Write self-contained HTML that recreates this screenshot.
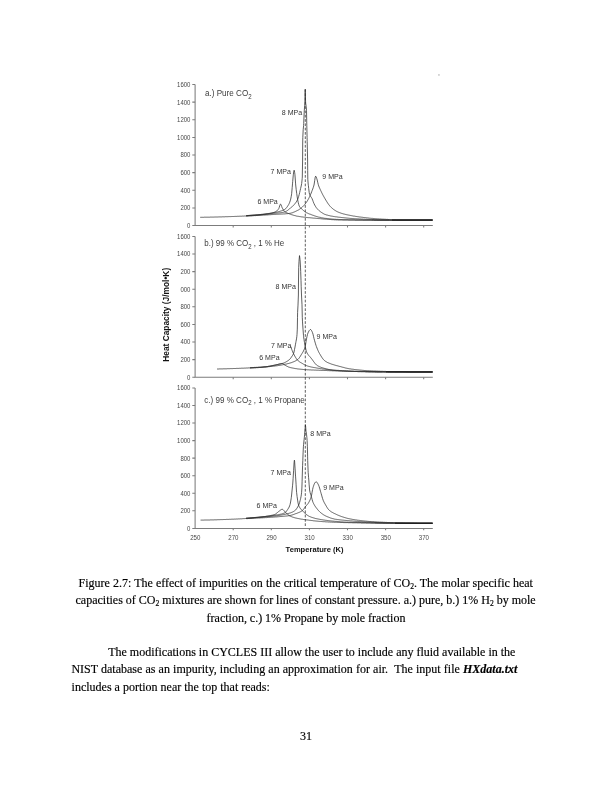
<!DOCTYPE html><html><head><meta charset="utf-8"><title>Page 31</title><style>
html,body{margin:0;padding:0;background:#fff}
body{width:612px;height:792px;position:relative;overflow:hidden;font-family:"Liberation Serif","Times New Roman",serif;font-size:12px;color:#000}
.l{position:absolute;white-space:nowrap;line-height:14px;height:14px;-webkit-text-stroke:0.16px #000}
sub{font-size:7.6px;vertical-align:baseline;position:relative;top:2px;line-height:0}

</style></head><body>
<svg width="612" height="792" viewBox="0 0 612 792" style="position:absolute;left:0;top:0">
<g fill="none" stroke="#7c7c7c" stroke-width="1.05">
<path d="M195.1,84.5 V225.5 H432.8"/>
<path d="M192.3,225.5 H195.1 M192.3,207.9 H195.1 M192.3,190.2 H195.1 M192.3,172.6 H195.1 M192.3,155.0 H195.1 M192.3,137.4 H195.1 M192.3,119.8 H195.1 M192.3,102.1 H195.1 M192.3,84.5 H195.1 M233.2,225.5 v1.9 M271.3,225.5 v1.9 M309.4,225.5 v1.9 M347.5,225.5 v1.9 M385.6,225.5 v1.9 M423.7,225.5 v1.9 "/>
<path d="M195.1,236.4 V377.25 H432.8"/>
<path d="M192.3,377.2 H195.1 M192.3,359.6 H195.1 M192.3,342.0 H195.1 M192.3,324.4 H195.1 M192.3,306.8 H195.1 M192.3,289.2 H195.1 M192.3,271.6 H195.1 M192.3,254.0 H195.1 M192.3,236.4 H195.1 M233.2,377.25 v1.9 M271.3,377.25 v1.9 M309.4,377.25 v1.9 M347.5,377.25 v1.9 M385.6,377.25 v1.9 M423.7,377.25 v1.9 "/>
<path d="M195.1,387.9 V528.4 H432.8"/>
<path d="M192.3,528.4 H195.1 M192.3,510.8 H195.1 M192.3,493.3 H195.1 M192.3,475.7 H195.1 M192.3,458.1 H195.1 M192.3,440.6 H195.1 M192.3,423.0 H195.1 M192.3,405.5 H195.1 M192.3,387.9 H195.1 M233.2,528.4 v1.9 M271.3,528.4 v1.9 M309.4,528.4 v1.9 M347.5,528.4 v1.9 M385.6,528.4 v1.9 M423.7,528.4 v1.9 "/>
</g>
<path d="M305.3,89 V527" stroke="#1a1a1a" stroke-width="0.7" stroke-dasharray="2.7,1.6" fill="none"/>
<g fill="none" stroke="#2a2a2a" stroke-width="0.75" stroke-linejoin="round">
<path d="M200.2,217.3 L200.7,217.3 L201.2,217.3 L201.7,217.3 L202.2,217.3 L202.7,217.3 L203.2,217.3 L203.7,217.3 L204.2,217.2 L204.7,217.2 L205.2,217.2 L205.7,217.2 L206.2,217.2 L206.7,217.2 L207.2,217.2 L207.7,217.2 L208.2,217.2 L208.7,217.2 L209.2,217.2 L209.7,217.2 L210.2,217.1 L210.7,217.1 L211.2,217.1 L211.7,217.1 L212.2,217.1 L212.7,217.1 L213.2,217.1 L213.7,217.1 L214.2,217.1 L214.7,217.0 L215.2,217.0 L215.7,217.0 L216.2,217.0 L216.7,217.0 L217.2,217.0 L217.7,217.0 L218.2,217.0 L218.7,216.9 L219.2,216.9 L219.7,216.9 L220.2,216.9 L220.7,216.9 L221.2,216.9 L221.7,216.9 L222.2,216.8 L222.7,216.8 L223.2,216.8 L223.7,216.8 L224.2,216.8 L224.7,216.8 L225.2,216.7 L225.7,216.7 L226.2,216.7 L226.7,216.7 L227.2,216.7 L227.7,216.7 L228.2,216.7 L228.7,216.6 L229.2,216.6 L229.7,216.6 L230.0,216.6 L230.2,216.6 L230.7,216.6 L231.2,216.6 L231.7,216.5 L232.2,216.5 L232.7,216.5 L233.2,216.5 L233.7,216.5 L234.2,216.5 L234.7,216.4 L235.2,216.4 L235.7,216.4 L236.2,216.4 L236.7,216.4 L237.2,216.3 L237.7,216.3 L238.2,216.3 L238.7,216.3 L239.2,216.3 L239.7,216.2 L240.2,216.2 L240.7,216.2 L241.2,216.2 L241.7,216.2 L242.2,216.1 L242.7,216.1 L243.2,216.1 L243.7,216.1 L244.2,216.0 L244.7,216.0 L245.2,216.0 L245.7,216.0 L246.2,215.9 L246.7,215.9 L247.2,215.9 L247.7,215.9 L248.2,215.8 L248.7,215.8 L249.2,215.8 L249.7,215.7 L250.2,215.7 L250.7,215.7 L251.2,215.7 L251.7,215.6 L252.2,215.6 L252.7,215.6 L253.2,215.5 L253.7,215.5 L254.2,215.5 L254.7,215.4 L255.0,215.4 L255.2,215.4 L255.7,215.3 L256.2,215.3 L256.7,215.3 L257.2,215.2 L257.7,215.2 L258.2,215.1 L258.7,215.1 L259.2,215.0 L259.7,215.0 L260.2,214.9 L260.7,214.9 L261.2,214.8 L261.7,214.7 L262.2,214.7 L262.7,214.6 L263.2,214.6 L263.7,214.5 L264.2,214.4 L264.7,214.3 L265.2,214.3 L265.7,214.2 L266.2,214.1 L266.7,214.0 L267.2,213.9 L267.7,213.9 L268.0,213.8 L268.2,213.8 L268.7,213.7 L269.2,213.6 L269.7,213.5 L270.2,213.4 L270.7,213.3 L271.2,213.2 L271.7,213.1 L272.2,212.9 L272.7,212.8 L273.2,212.6 L273.7,212.5 L274.2,212.3 L274.7,212.1 L275.2,211.9 L275.7,211.6 L275.8,211.6 L276.2,211.4 L276.7,211.0 L277.2,210.5 L277.7,210.0 L278.2,209.4 L278.7,208.7 L278.8,208.5 L279.2,207.5 L279.7,205.8 L280.2,204.4 L280.5,204.1 L280.7,204.2 L281.2,205.1 L281.7,206.5 L282.2,207.8 L282.3,208.0 L282.7,208.7 L283.2,209.6 L283.7,210.4 L284.2,211.1 L284.6,211.5 L284.7,211.6 L285.2,211.9 L285.7,212.3 L286.2,212.5 L286.7,212.8 L287.2,213.0 L287.7,213.2 L288.2,213.4 L288.7,213.6 L289.2,213.8 L289.5,213.9 L289.7,214.0 L290.2,214.2 L290.7,214.3 L291.2,214.5 L291.7,214.7 L292.2,214.8 L292.7,215.0 L293.2,215.2 L293.7,215.3 L294.2,215.4 L294.7,215.6 L295.2,215.7 L295.7,215.8 L296.2,216.0 L296.7,216.1 L297.2,216.2 L297.4,216.2 L297.7,216.3 L298.2,216.3 L298.7,216.4 L299.2,216.5 L299.7,216.6 L300.2,216.7 L300.7,216.7 L301.2,216.8 L301.7,216.9 L302.2,216.9 L302.7,217.0 L303.2,217.1 L303.7,217.1 L304.2,217.2 L304.7,217.2 L305.2,217.3 L305.7,217.3 L306.2,217.4 L306.7,217.5 L307.2,217.5 L307.7,217.6 L308.2,217.6 L308.7,217.7 L309.2,217.7 L309.7,217.7 L310.2,217.8 L310.7,217.8 L311.2,217.9 L311.7,217.9 L312.2,218.0 L312.7,218.0 L313.2,218.1 L313.7,218.1 L314.2,218.1 L314.7,218.2 L315.2,218.2 L315.7,218.3 L316.0,218.3 L316.2,218.3 L316.7,218.4 L317.2,218.4 L317.7,218.5 L318.2,218.5 L318.7,218.6 L319.2,218.6 L319.7,218.6 L320.2,218.7 L320.7,218.7 L321.2,218.8 L321.7,218.8 L322.2,218.9 L322.7,218.9 L323.2,219.0 L323.7,219.0 L324.2,219.0 L324.7,219.1 L325.0,219.1 L325.2,219.1 L325.7,219.2 L326.2,219.2 L326.7,219.2 L327.2,219.3 L327.7,219.3 L328.2,219.3 L328.7,219.4 L329.2,219.4 L329.7,219.5 L330.2,219.5 L330.7,219.5 L331.2,219.6 L331.7,219.6 L332.2,219.6 L332.7,219.7 L333.2,219.7 L333.7,219.7 L334.2,219.8 L334.7,219.8 L335.2,219.8 L335.7,219.8 L336.2,219.9 L336.7,219.9 L337.2,219.9 L337.7,219.9 L338.2,220.0 L338.7,220.0 L339.2,220.0 L339.7,220.0 L340.0,220.0 L340.2,220.0 L340.7,220.0 L341.2,220.0 L341.7,220.0 L342.2,220.0 L342.7,220.1 L343.2,220.1 L343.7,220.1 L344.2,220.1 L344.7,220.1 L345.2,220.1 L345.7,220.1 L346.2,220.1 L346.7,220.1 L347.2,220.1 L347.7,220.1 L348.2,220.1 L348.7,220.2 L349.2,220.2 L349.7,220.2 L350.2,220.2 L350.7,220.2 L351.2,220.2 L351.7,220.2 L352.2,220.2 L352.7,220.2 L353.2,220.2 L353.7,220.2 L354.2,220.2 L354.7,220.2 L355.2,220.3 L355.7,220.3 L356.2,220.3 L356.7,220.3 L357.2,220.3 L357.7,220.3 L358.2,220.3 L358.7,220.3 L359.2,220.3 L359.7,220.3 L360.2,220.3 L360.7,220.3 L361.2,220.3 L361.7,220.3 L362.2,220.3 L362.7,220.3 L363.2,220.4 L363.7,220.4 L364.2,220.4 L364.7,220.4 L365.2,220.4 L365.7,220.4 L366.2,220.4 L366.7,220.4 L367.2,220.4 L367.7,220.4 L368.2,220.4 L368.7,220.4 L369.2,220.4 L369.7,220.4 L370.2,220.4 L370.7,220.4 L371.2,220.4 L371.7,220.4 L372.2,220.4 L372.7,220.4 L373.2,220.4 L373.7,220.4 L374.2,220.4 L374.7,220.5 L375.2,220.5 L375.7,220.5 L376.2,220.5 L376.7,220.5 L377.2,220.5 L377.7,220.5 L378.2,220.5 L378.7,220.5 L379.2,220.5 L379.7,220.5 L380.2,220.5 L380.7,220.5 L381.2,220.5 L381.7,220.5 L382.2,220.5 L382.7,220.5 L383.2,220.5 L383.7,220.5 L384.2,220.5 L384.7,220.5 L385.2,220.5 L385.7,220.5 L386.2,220.5 L386.7,220.5 L387.2,220.5 L387.7,220.5 L388.2,220.5 L388.7,220.5 L389.2,220.5 L389.7,220.5 L390.0,220.5 L390.2,220.5 L390.7,220.5 L391.2,220.5 L391.7,220.5 L392.2,220.5 L392.7,220.5 L393.2,220.5 L393.7,220.5 L394.2,220.5 L394.7,220.5 L395.2,220.5 L395.7,220.5 L396.2,220.5 L396.7,220.5 L397.2,220.5 L397.7,220.5 L398.2,220.5 L398.7,220.5 L399.2,220.5 L399.7,220.5 L400.2,220.5 L400.7,220.5 L401.2,220.5 L401.7,220.5 L402.2,220.5 L402.7,220.5 L403.2,220.5 L403.7,220.5 L404.2,220.5 L404.7,220.5 L405.2,220.5 L405.7,220.5 L406.2,220.5 L406.7,220.5 L407.2,220.5 L407.7,220.5 L408.2,220.5 L408.7,220.5 L409.2,220.5 L409.7,220.5 L410.2,220.5 L410.7,220.5 L411.2,220.5 L411.7,220.5 L412.2,220.5 L412.7,220.5 L413.2,220.5 L413.7,220.5 L414.2,220.5 L414.7,220.5 L415.2,220.5 L415.7,220.5 L416.2,220.5 L416.7,220.5 L417.2,220.5 L417.7,220.5 L418.2,220.5 L418.7,220.5 L419.2,220.5 L419.7,220.5 L420.2,220.5 L420.7,220.5 L421.2,220.5 L421.7,220.5 L422.2,220.5 L422.7,220.5 L423.2,220.5 L423.7,220.5 L424.2,220.5 L424.7,220.5 L425.2,220.5 L425.7,220.5 L426.2,220.5 L426.7,220.5 L427.2,220.5 L427.7,220.5 L428.2,220.5 L428.7,220.5 L429.2,220.5 L429.7,220.5 L430.2,220.5 L430.7,220.5 L431.2,220.5 L431.7,220.5 L432.2,220.5 L432.5,220.5"/>
<path d="M246.2,215.7 L246.7,215.7 L247.2,215.6 L247.7,215.6 L248.2,215.6 L248.7,215.5 L249.2,215.5 L249.7,215.4 L250.2,215.4 L250.7,215.4 L251.2,215.3 L251.7,215.3 L252.2,215.2 L252.7,215.2 L253.2,215.2 L253.7,215.1 L254.2,215.1 L254.7,215.0 L255.0,215.0 L255.2,215.0 L255.7,214.9 L256.2,214.9 L256.7,214.8 L257.2,214.8 L257.7,214.8 L258.2,214.7 L258.7,214.7 L259.2,214.6 L259.7,214.6 L260.2,214.5 L260.7,214.5 L261.2,214.4 L261.7,214.3 L262.2,214.3 L262.7,214.2 L263.2,214.2 L263.7,214.1 L264.2,214.1 L264.7,214.0 L265.2,213.9 L265.7,213.9 L266.2,213.8 L266.7,213.7 L267.2,213.7 L267.7,213.6 L268.2,213.5 L268.7,213.5 L269.2,213.4 L269.7,213.3 L270.2,213.2 L270.7,213.2 L271.2,213.1 L271.7,213.0 L272.2,212.9 L272.7,212.8 L273.2,212.7 L273.7,212.6 L274.2,212.6 L274.7,212.5 L275.0,212.4 L275.2,212.4 L275.7,212.3 L276.2,212.2 L276.7,212.1 L277.2,212.0 L277.7,211.9 L278.2,211.8 L278.7,211.6 L279.2,211.5 L279.7,211.4 L280.2,211.2 L280.7,211.1 L281.2,210.9 L281.7,210.8 L282.2,210.6 L282.7,210.4 L283.2,210.2 L283.7,209.9 L284.2,209.7 L284.6,209.5 L284.7,209.4 L285.2,209.1 L285.7,208.7 L286.2,208.1 L286.7,207.5 L287.2,206.8 L287.7,206.1 L288.2,205.3 L288.5,204.8 L288.7,204.5 L289.2,203.5 L289.7,202.3 L290.2,200.9 L290.7,199.1 L291.2,196.6 L291.6,194.1 L291.7,193.3 L292.2,187.6 L292.5,183.9 L292.7,181.6 L293.2,175.9 L293.4,174.2 L293.7,171.9 L294.1,170.2 L294.2,170.3 L294.7,172.7 L294.9,174.2 L295.2,178.0 L295.6,183.9 L295.7,185.0 L296.2,189.5 L296.7,193.4 L296.8,194.1 L297.2,196.9 L297.7,199.9 L297.9,200.9 L298.2,202.3 L298.7,204.4 L299.2,205.9 L299.3,206.1 L299.7,206.8 L300.2,207.5 L300.7,208.0 L301.2,208.5 L301.7,209.0 L302.2,209.4 L302.3,209.5 L302.7,209.9 L303.2,210.3 L303.7,210.7 L304.2,211.1 L304.7,211.5 L305.2,211.9 L305.7,212.2 L306.2,212.5 L306.7,212.8 L307.2,213.0 L307.7,213.2 L308.2,213.5 L308.7,213.7 L309.2,213.9 L309.7,214.1 L310.2,214.2 L310.7,214.4 L311.2,214.6 L311.7,214.8 L312.0,214.9 L312.2,215.0 L312.7,215.2 L313.2,215.3 L313.7,215.5 L314.2,215.7 L314.7,215.9 L315.2,216.1 L315.7,216.2 L316.2,216.4 L316.7,216.5 L317.2,216.7 L317.7,216.8 L318.0,216.9 L318.2,217.0 L318.7,217.1 L319.2,217.2 L319.7,217.3 L320.2,217.4 L320.7,217.5 L321.2,217.7 L321.7,217.8 L322.2,217.9 L322.7,217.9 L323.2,218.0 L323.7,218.1 L324.2,218.2 L324.7,218.3 L325.0,218.3 L325.2,218.3 L325.7,218.4 L326.2,218.4 L326.7,218.5 L327.2,218.6 L327.7,218.6 L328.2,218.7 L328.7,218.7 L329.2,218.8 L329.7,218.8 L330.2,218.9 L330.7,218.9 L331.2,219.0 L331.7,219.0 L332.2,219.1 L332.7,219.1 L333.2,219.1 L333.7,219.2 L334.2,219.2 L334.7,219.3 L335.2,219.3 L335.7,219.3 L336.2,219.4 L336.7,219.4 L337.2,219.4 L337.7,219.4 L338.2,219.4 L338.7,219.5 L339.2,219.5 L339.7,219.5 L340.0,219.5 L340.2,219.5 L340.7,219.5 L341.2,219.5 L341.7,219.5 L342.2,219.5 L342.7,219.6 L343.2,219.6 L343.7,219.6 L344.2,219.6 L344.7,219.6 L345.2,219.6 L345.7,219.6 L346.2,219.6 L346.7,219.6 L347.2,219.6 L347.7,219.6 L348.2,219.7 L348.7,219.7 L349.2,219.7 L349.7,219.7 L350.2,219.7 L350.7,219.7 L351.2,219.7 L351.7,219.7 L352.2,219.7 L352.7,219.7 L353.2,219.7 L353.7,219.7 L354.2,219.7 L354.7,219.8 L355.2,219.8 L355.7,219.8 L356.2,219.8 L356.7,219.8 L357.2,219.8 L357.7,219.8 L358.2,219.8 L358.7,219.8 L359.2,219.8 L359.7,219.8 L360.2,219.8 L360.7,219.8 L361.2,219.8 L361.7,219.8 L362.2,219.8 L362.7,219.9 L363.2,219.9 L363.7,219.9 L364.2,219.9 L364.7,219.9 L365.2,219.9 L365.7,219.9 L366.2,219.9 L366.7,219.9 L367.2,219.9 L367.7,219.9 L368.2,219.9 L368.7,219.9 L369.2,219.9 L369.7,219.9 L370.2,219.9 L370.7,219.9 L371.2,219.9 L371.7,219.9 L372.2,219.9 L372.7,219.9 L373.2,219.9 L373.7,219.9 L374.2,220.0 L374.7,220.0 L375.2,220.0 L375.7,220.0 L376.2,220.0 L376.7,220.0 L377.2,220.0 L377.7,220.0 L378.2,220.0 L378.7,220.0 L379.2,220.0 L379.7,220.0 L380.2,220.0 L380.7,220.0 L381.2,220.0 L381.7,220.0 L382.2,220.0 L382.7,220.0 L383.2,220.0 L383.7,220.0 L384.2,220.0 L384.7,220.0 L385.2,220.0 L385.7,220.0 L386.2,220.0 L386.7,220.0 L387.2,220.0 L387.7,220.0 L388.2,220.0 L388.7,220.0 L389.2,220.0 L389.7,220.0 L390.0,220.0 L390.2,220.0 L390.7,220.0 L391.2,220.0 L391.7,220.0 L392.2,220.0 L392.7,220.0 L393.2,220.0 L393.7,220.0 L394.2,220.0 L394.7,220.0 L395.2,220.0 L395.7,220.0 L396.2,220.0 L396.7,220.0 L397.2,220.0 L397.7,220.0 L398.2,220.0 L398.7,220.0 L399.2,220.0 L399.7,220.0 L400.2,220.0 L400.7,220.0 L401.2,220.0 L401.7,220.0 L402.2,220.0 L402.7,220.0 L403.2,220.0 L403.7,220.0 L404.2,220.0 L404.7,220.0 L405.2,220.0 L405.7,220.0 L406.2,220.0 L406.7,220.0 L407.2,220.0 L407.7,220.0 L408.2,220.0 L408.7,220.0 L409.2,220.0 L409.7,220.0 L410.2,220.0 L410.7,220.0 L411.2,220.0 L411.7,220.0 L412.2,220.0 L412.7,220.0 L413.2,220.0 L413.7,220.0 L414.2,220.0 L414.7,220.0 L415.2,220.0 L415.7,220.0 L416.2,220.0 L416.7,220.0 L417.2,220.0 L417.7,220.0 L418.2,220.0 L418.7,220.0 L419.2,220.0 L419.7,220.0 L420.2,220.0 L420.7,220.0 L421.2,220.0 L421.7,220.0 L422.2,220.0 L422.7,220.0 L423.2,220.0 L423.7,220.0 L424.2,220.0 L424.7,220.0 L425.2,220.0 L425.7,220.0 L426.2,220.0 L426.7,220.0 L427.2,220.0 L427.7,220.0 L428.2,220.0 L428.7,220.0 L429.2,220.0 L429.7,220.0 L430.2,220.0 L430.7,220.0 L431.2,220.0 L431.7,220.0 L432.2,220.0 L432.5,220.0"/>
<path d="M246.2,215.6 L246.7,215.6 L247.2,215.6 L247.7,215.5 L248.2,215.5 L248.7,215.4 L249.2,215.4 L249.7,215.4 L250.2,215.3 L250.7,215.3 L251.2,215.3 L251.7,215.2 L252.2,215.2 L252.7,215.2 L253.2,215.1 L253.7,215.1 L254.2,215.1 L254.7,215.0 L255.0,215.0 L255.2,215.0 L255.7,215.0 L256.2,214.9 L256.7,214.9 L257.2,214.9 L257.7,214.8 L258.2,214.8 L258.7,214.8 L259.2,214.7 L259.7,214.7 L260.2,214.7 L260.7,214.6 L261.2,214.6 L261.7,214.6 L262.2,214.5 L262.7,214.5 L263.2,214.4 L263.7,214.4 L264.2,214.4 L264.7,214.3 L265.0,214.3 L265.2,214.3 L265.7,214.2 L266.2,214.2 L266.7,214.2 L267.2,214.1 L267.7,214.1 L268.2,214.0 L268.7,214.0 L269.2,213.9 L269.7,213.9 L270.2,213.8 L270.7,213.8 L271.2,213.7 L271.7,213.7 L272.2,213.6 L272.7,213.6 L273.2,213.5 L273.7,213.4 L274.2,213.4 L274.7,213.3 L275.0,213.3 L275.2,213.3 L275.7,213.2 L276.2,213.2 L276.7,213.1 L277.2,213.1 L277.7,213.0 L278.2,213.0 L278.7,212.9 L279.2,212.9 L279.7,212.8 L280.2,212.8 L280.7,212.7 L281.2,212.6 L281.7,212.6 L282.2,212.5 L282.7,212.4 L283.2,212.3 L283.7,212.2 L284.2,212.1 L284.6,212.0 L284.7,212.0 L285.2,211.8 L285.7,211.6 L286.2,211.3 L286.7,211.0 L287.2,210.7 L287.7,210.3 L288.2,209.9 L288.7,209.5 L289.2,209.1 L289.7,208.7 L290.2,208.2 L290.5,208.0 L290.7,207.8 L291.2,207.4 L291.7,207.0 L292.2,206.6 L292.7,206.2 L293.2,205.7 L293.7,205.2 L294.2,204.6 L294.4,204.4 L294.7,204.0 L295.2,203.4 L295.7,202.8 L296.2,202.0 L296.7,201.2 L297.2,200.3 L297.6,199.5 L297.7,199.3 L298.2,197.9 L298.7,196.3 L299.2,194.5 L299.7,192.5 L300.2,190.3 L300.6,188.5 L300.7,188.1 L301.2,186.0 L301.6,183.9 L301.7,183.3 L302.2,178.6 L302.3,177.0 L302.4,171.0 L302.6,160.0 L302.7,143.0 L302.8,137.6 L303.2,129.7 L303.6,125.5 L303.7,123.6 L304.2,112.2 L304.3,110.3 L304.7,105.4 L304.9,102.0 L305.2,89.5 L305.6,102.0 L305.7,103.3 L306.2,106.8 L306.5,110.3 L306.7,120.0 L306.8,125.5 L307.1,137.6 L307.2,141.6 L307.6,160.0 L307.7,170.7 L307.8,179.3 L308.2,184.1 L308.4,185.6 L308.7,188.4 L309.2,192.5 L309.5,194.0 L309.7,194.6 L310.2,195.7 L310.7,196.5 L311.2,197.2 L311.7,197.9 L312.0,198.5 L312.2,199.0 L312.7,200.2 L313.2,201.6 L313.7,202.9 L314.0,203.6 L314.2,204.0 L314.7,205.0 L315.2,205.9 L315.7,206.7 L316.2,207.5 L316.7,208.1 L317.0,208.5 L317.2,208.7 L317.7,209.3 L318.2,209.8 L318.7,210.3 L319.2,210.7 L319.7,211.1 L320.2,211.5 L320.7,211.9 L320.9,212.0 L321.2,212.2 L321.7,212.6 L322.2,212.9 L322.7,213.2 L323.2,213.5 L323.7,213.8 L324.2,214.1 L324.7,214.3 L325.0,214.4 L325.2,214.5 L325.7,214.6 L326.2,214.8 L326.7,215.0 L327.2,215.1 L327.7,215.2 L328.2,215.4 L328.7,215.5 L329.2,215.6 L329.7,215.7 L330.2,215.8 L330.7,216.0 L331.2,216.1 L331.7,216.1 L332.2,216.2 L332.7,216.3 L333.2,216.4 L333.7,216.5 L334.2,216.6 L334.5,216.6 L334.7,216.6 L335.2,216.7 L335.7,216.8 L336.2,216.8 L336.7,216.9 L337.2,217.0 L337.7,217.0 L338.2,217.1 L338.7,217.2 L339.2,217.2 L339.7,217.3 L340.2,217.3 L340.7,217.4 L341.2,217.5 L341.7,217.5 L342.2,217.6 L342.7,217.6 L343.2,217.7 L343.7,217.7 L344.2,217.8 L344.7,217.8 L345.2,217.9 L345.7,217.9 L346.2,218.0 L346.7,218.0 L347.2,218.1 L347.7,218.1 L348.2,218.2 L348.7,218.2 L349.2,218.3 L349.7,218.3 L350.2,218.4 L350.7,218.4 L351.2,218.4 L351.7,218.5 L352.2,218.5 L352.7,218.6 L353.2,218.6 L353.7,218.6 L354.2,218.7 L354.7,218.7 L355.2,218.7 L355.7,218.8 L356.2,218.8 L356.7,218.8 L357.2,218.8 L357.7,218.9 L358.2,218.9 L358.7,218.9 L359.2,219.0 L359.7,219.0 L360.0,219.0 L360.2,219.0 L360.7,219.0 L361.2,219.1 L361.7,219.1 L362.2,219.1 L362.7,219.1 L363.2,219.2 L363.7,219.2 L364.2,219.2 L364.7,219.2 L365.2,219.3 L365.7,219.3 L366.2,219.3 L366.7,219.3 L367.2,219.4 L367.7,219.4 L368.2,219.4 L368.7,219.4 L369.2,219.4 L369.7,219.5 L370.2,219.5 L370.7,219.5 L371.2,219.5 L371.7,219.6 L372.2,219.6 L372.7,219.6 L373.2,219.6 L373.7,219.6 L374.2,219.7 L374.7,219.7 L375.2,219.7 L375.7,219.7 L376.2,219.7 L376.7,219.7 L377.2,219.8 L377.7,219.8 L378.2,219.8 L378.7,219.8 L379.2,219.8 L379.7,219.8 L380.2,219.9 L380.7,219.9 L381.2,219.9 L381.7,219.9 L382.2,219.9 L382.7,219.9 L383.2,219.9 L383.7,219.9 L384.2,219.9 L384.7,220.0 L385.2,220.0 L385.7,220.0 L386.2,220.0 L386.7,220.0 L387.2,220.0 L387.7,220.0 L388.2,220.0 L388.7,220.0 L389.2,220.0 L389.7,220.0 L390.0,220.0 L390.2,220.0 L390.7,220.0 L391.2,220.0 L391.7,220.0 L392.2,220.0 L392.7,220.0 L393.2,220.0 L393.7,220.0 L394.2,220.0 L394.7,220.0 L395.2,220.0 L395.7,220.0 L396.2,220.0 L396.7,220.0 L397.2,220.0 L397.7,220.0 L398.2,220.0 L398.7,220.0 L399.2,220.0 L399.7,220.0 L400.2,220.0 L400.7,220.0 L401.2,220.0 L401.7,220.0 L402.2,220.0 L402.7,220.0 L403.2,220.0 L403.7,220.0 L404.2,220.0 L404.7,220.0 L405.2,220.0 L405.7,220.0 L406.2,220.0 L406.7,220.0 L407.2,220.0 L407.7,220.0 L408.2,220.0 L408.7,220.0 L409.2,220.0 L409.7,220.0 L410.2,220.0 L410.7,220.0 L411.2,220.0 L411.7,220.0 L412.2,220.0 L412.7,220.0 L413.2,220.0 L413.7,220.0 L414.2,220.0 L414.7,220.0 L415.2,220.0 L415.7,220.0 L416.2,220.0 L416.7,220.0 L417.2,220.0 L417.7,220.0 L418.2,220.0 L418.7,220.0 L419.2,220.0 L419.7,220.0 L420.2,220.0 L420.7,220.0 L421.2,220.0 L421.7,220.0 L422.2,220.0 L422.7,220.0 L423.2,220.0 L423.7,220.0 L424.2,220.0 L424.7,220.0 L425.2,220.0 L425.7,220.0 L426.2,220.0 L426.7,220.0 L427.2,220.0 L427.7,220.0 L428.2,220.0 L428.7,220.0 L429.2,220.0 L429.7,220.0 L430.2,220.0 L430.7,220.0 L431.2,220.0 L431.7,220.0 L432.2,220.0 L432.5,220.0"/>
<path d="M246.2,216.0 L246.7,216.0 L247.2,216.0 L247.7,215.9 L248.2,215.9 L248.7,215.9 L249.2,215.9 L249.7,215.8 L250.2,215.8 L250.7,215.8 L251.2,215.8 L251.7,215.8 L252.2,215.7 L252.7,215.7 L253.2,215.7 L253.7,215.7 L254.2,215.6 L254.7,215.6 L255.0,215.6 L255.2,215.6 L255.7,215.6 L256.2,215.5 L256.7,215.5 L257.2,215.5 L257.7,215.5 L258.2,215.4 L258.7,215.4 L259.2,215.4 L259.7,215.4 L260.2,215.3 L260.7,215.3 L261.2,215.3 L261.7,215.2 L262.2,215.2 L262.7,215.2 L263.2,215.1 L263.7,215.1 L264.2,215.1 L264.7,215.1 L265.2,215.0 L265.7,215.0 L266.2,215.0 L266.7,214.9 L267.2,214.9 L267.7,214.9 L268.2,214.8 L268.7,214.8 L269.2,214.8 L269.7,214.7 L270.2,214.7 L270.7,214.7 L271.2,214.6 L271.7,214.6 L272.2,214.6 L272.7,214.5 L273.2,214.5 L273.7,214.5 L274.2,214.5 L274.7,214.4 L275.0,214.4 L275.2,214.4 L275.7,214.4 L276.2,214.3 L276.7,214.3 L277.2,214.3 L277.7,214.2 L278.2,214.2 L278.7,214.2 L279.2,214.2 L279.7,214.1 L280.2,214.1 L280.7,214.1 L281.2,214.1 L281.7,214.0 L282.2,214.0 L282.7,214.0 L283.2,214.0 L283.7,213.9 L284.2,213.9 L284.7,213.9 L285.2,213.8 L285.7,213.8 L286.2,213.7 L286.7,213.7 L287.2,213.7 L287.7,213.6 L288.2,213.5 L288.7,213.5 L289.2,213.4 L289.5,213.4 L289.7,213.4 L290.2,213.3 L290.7,213.2 L291.2,213.1 L291.7,212.9 L292.2,212.8 L292.7,212.6 L293.2,212.4 L293.7,212.2 L294.2,212.0 L294.7,211.8 L295.2,211.6 L295.7,211.3 L296.2,211.1 L296.7,210.8 L297.2,210.6 L297.4,210.5 L297.7,210.3 L298.2,210.1 L298.7,209.8 L299.2,209.5 L299.7,209.1 L300.2,208.8 L300.7,208.4 L301.2,208.0 L301.7,207.6 L302.2,207.2 L302.3,207.1 L302.7,206.7 L303.2,206.2 L303.7,205.7 L304.2,205.2 L304.7,204.6 L305.2,203.9 L305.7,203.3 L306.2,202.6 L306.7,201.9 L307.2,201.1 L307.7,200.3 L308.2,199.4 L308.7,198.5 L309.1,197.7 L309.2,197.5 L309.7,196.5 L310.2,195.4 L310.7,194.2 L311.2,193.0 L311.7,191.7 L312.0,190.9 L312.2,190.4 L312.7,189.1 L313.2,187.7 L313.7,186.1 L314.0,185.0 L314.2,184.0 L314.7,180.6 L315.2,177.3 L315.6,176.2 L315.7,176.2 L316.2,177.0 L316.7,178.4 L316.9,179.0 L317.2,180.0 L317.7,182.2 L318.2,184.3 L318.4,185.0 L318.7,185.9 L319.2,187.2 L319.7,188.3 L320.2,189.4 L320.7,190.5 L320.9,190.9 L321.2,191.5 L321.7,192.6 L322.2,193.6 L322.7,194.6 L323.2,195.5 L323.7,196.4 L324.2,197.3 L324.7,198.2 L325.0,198.7 L325.2,199.0 L325.7,199.9 L326.2,200.7 L326.7,201.5 L327.2,202.3 L327.7,203.1 L328.2,203.8 L328.7,204.5 L329.2,205.2 L329.7,205.8 L330.2,206.4 L330.7,206.9 L330.8,207.0 L331.2,207.4 L331.7,207.8 L332.2,208.3 L332.7,208.7 L333.2,209.1 L333.7,209.5 L334.2,209.8 L334.7,210.2 L335.2,210.5 L335.7,210.8 L336.2,211.1 L336.7,211.4 L337.2,211.6 L337.7,211.9 L338.0,212.0 L338.2,212.1 L338.7,212.3 L339.2,212.5 L339.7,212.7 L340.2,212.9 L340.7,213.0 L341.2,213.2 L341.7,213.4 L342.2,213.5 L342.7,213.7 L343.2,213.8 L343.7,214.0 L344.2,214.1 L344.7,214.2 L345.2,214.3 L345.7,214.5 L345.9,214.5 L346.2,214.6 L346.7,214.7 L347.2,214.8 L347.7,214.9 L348.2,215.0 L348.7,215.1 L349.2,215.2 L349.7,215.3 L350.2,215.4 L350.7,215.5 L351.2,215.6 L351.7,215.7 L352.2,215.8 L352.7,215.9 L353.2,216.0 L353.7,216.1 L354.2,216.1 L354.7,216.2 L355.2,216.3 L355.7,216.4 L356.2,216.5 L356.7,216.5 L357.2,216.6 L357.7,216.7 L358.2,216.8 L358.7,216.8 L359.2,216.9 L359.7,217.0 L360.0,217.0 L360.2,217.0 L360.7,217.1 L361.2,217.2 L361.7,217.2 L362.2,217.3 L362.7,217.3 L363.2,217.4 L363.7,217.5 L364.2,217.5 L364.7,217.6 L365.2,217.6 L365.7,217.7 L366.2,217.8 L366.7,217.8 L367.2,217.9 L367.7,217.9 L368.2,218.0 L368.7,218.0 L369.2,218.1 L369.7,218.2 L370.2,218.2 L370.7,218.3 L371.2,218.3 L371.7,218.4 L372.2,218.4 L372.7,218.4 L373.2,218.5 L373.7,218.5 L374.2,218.6 L374.7,218.6 L375.2,218.7 L375.7,218.7 L376.2,218.7 L376.7,218.8 L377.2,218.8 L377.7,218.9 L378.2,218.9 L378.7,218.9 L379.2,219.0 L379.7,219.0 L380.0,219.0 L380.2,219.0 L380.7,219.0 L381.2,219.1 L381.7,219.1 L382.2,219.1 L382.7,219.2 L383.2,219.2 L383.7,219.2 L384.2,219.2 L384.7,219.3 L385.2,219.3 L385.7,219.3 L386.2,219.4 L386.7,219.4 L387.2,219.4 L387.7,219.4 L388.2,219.5 L388.7,219.5 L389.2,219.5 L389.7,219.5 L390.2,219.6 L390.7,219.6 L391.2,219.6 L391.7,219.6 L392.2,219.6 L392.7,219.7 L393.2,219.7 L393.7,219.7 L394.2,219.7 L394.7,219.7 L395.2,219.7 L395.7,219.7 L396.2,219.8 L396.7,219.8 L397.2,219.8 L397.7,219.8 L398.2,219.8 L398.7,219.8 L399.2,219.8 L399.7,219.8 L400.0,219.8 L400.2,219.8 L400.7,219.8 L401.2,219.8 L401.7,219.8 L402.2,219.8 L402.7,219.8 L403.2,219.8 L403.7,219.8 L404.2,219.8 L404.7,219.8 L405.2,219.8 L405.7,219.8 L406.2,219.8 L406.7,219.8 L407.2,219.8 L407.7,219.8 L408.2,219.8 L408.7,219.8 L409.2,219.8 L409.7,219.8 L410.2,219.8 L410.7,219.8 L411.2,219.8 L411.7,219.8 L412.2,219.8 L412.7,219.8 L413.2,219.8 L413.7,219.8 L414.2,219.8 L414.7,219.8 L415.2,219.8 L415.7,219.8 L416.2,219.8 L416.7,219.8 L417.2,219.8 L417.7,219.8 L418.2,219.8 L418.7,219.8 L419.2,219.8 L419.7,219.8 L420.2,219.8 L420.7,219.8 L421.2,219.8 L421.7,219.8 L422.2,219.8 L422.7,219.8 L423.2,219.8 L423.7,219.8 L424.2,219.8 L424.7,219.8 L425.2,219.8 L425.7,219.8 L426.2,219.8 L426.7,219.8 L427.2,219.8 L427.7,219.8 L428.2,219.8 L428.7,219.8 L429.2,219.8 L429.7,219.8 L430.2,219.8 L430.7,219.8 L431.2,219.8 L431.7,219.8 L432.2,219.8 L432.5,219.8"/>
<path d="M217.0,369.0 L217.5,369.0 L218.0,369.0 L218.5,369.0 L219.0,369.0 L219.5,368.9 L220.0,368.9 L220.5,368.9 L221.0,368.9 L221.5,368.9 L222.0,368.9 L222.5,368.9 L223.0,368.9 L223.5,368.8 L224.0,368.8 L224.5,368.8 L225.0,368.8 L225.5,368.8 L226.0,368.8 L226.5,368.8 L227.0,368.7 L227.5,368.7 L228.0,368.7 L228.5,368.7 L229.0,368.7 L229.5,368.7 L230.0,368.7 L230.5,368.6 L231.0,368.6 L231.5,368.6 L232.0,368.6 L232.5,368.6 L233.0,368.6 L233.5,368.5 L234.0,368.5 L234.5,368.5 L235.0,368.5 L235.5,368.5 L236.0,368.4 L236.5,368.4 L237.0,368.4 L237.5,368.4 L238.0,368.4 L238.5,368.4 L239.0,368.3 L239.5,368.3 L240.0,368.3 L240.5,368.3 L241.0,368.3 L241.5,368.2 L242.0,368.2 L242.5,368.2 L243.0,368.2 L243.5,368.2 L244.0,368.1 L244.5,368.1 L245.0,368.1 L245.5,368.1 L246.0,368.1 L246.5,368.0 L247.0,368.0 L247.5,368.0 L248.0,368.0 L248.5,367.9 L249.0,367.9 L249.5,367.9 L250.0,367.9 L250.5,367.8 L251.0,367.8 L251.5,367.8 L252.0,367.8 L252.5,367.7 L253.0,367.7 L253.5,367.7 L254.0,367.7 L254.5,367.6 L255.0,367.6 L255.5,367.6 L256.0,367.5 L256.5,367.5 L257.0,367.5 L257.5,367.5 L258.0,367.4 L258.5,367.4 L259.0,367.4 L259.5,367.3 L260.0,367.3 L260.5,367.3 L261.0,367.2 L261.5,367.2 L262.0,367.2 L262.5,367.1 L263.0,367.1 L263.5,367.0 L264.0,367.0 L264.5,366.9 L265.0,366.9 L265.5,366.8 L266.0,366.8 L266.5,366.7 L267.0,366.7 L267.5,366.6 L268.0,366.5 L268.5,366.4 L269.0,366.4 L269.5,366.3 L270.0,366.2 L270.5,366.1 L271.0,366.0 L271.5,365.9 L272.0,365.8 L272.5,365.7 L273.0,365.6 L273.5,365.5 L274.0,365.4 L274.5,365.3 L275.0,365.2 L275.5,365.1 L276.0,365.0 L276.5,364.8 L277.0,364.7 L277.5,364.5 L278.0,364.4 L278.5,364.2 L279.0,364.1 L279.5,363.9 L280.0,363.8 L280.5,363.7 L281.0,363.6 L281.5,363.5 L282.0,363.5 L282.2,363.5 L282.5,363.5 L283.0,363.7 L283.5,364.1 L284.0,364.5 L284.5,364.9 L285.0,365.2 L285.5,365.5 L286.0,365.7 L286.5,366.0 L287.0,366.3 L287.5,366.5 L288.0,366.7 L288.5,367.0 L289.0,367.1 L289.5,367.3 L290.0,367.4 L290.5,367.6 L291.0,367.7 L291.5,367.8 L292.0,367.9 L292.5,368.0 L293.0,368.1 L293.5,368.2 L294.0,368.3 L294.5,368.4 L295.0,368.5 L295.5,368.6 L296.0,368.7 L296.5,368.7 L297.0,368.8 L297.5,368.9 L297.7,368.9 L298.0,368.9 L298.5,369.0 L299.0,369.1 L299.5,369.1 L300.0,369.2 L300.5,369.2 L301.0,369.3 L301.5,369.3 L302.0,369.4 L302.5,369.4 L303.0,369.5 L303.5,369.5 L304.0,369.6 L304.5,369.6 L305.0,369.6 L305.5,369.7 L305.8,369.7 L306.0,369.7 L306.5,369.7 L307.0,369.8 L307.5,369.8 L308.0,369.8 L308.5,369.8 L309.0,369.9 L309.5,369.9 L310.0,369.9 L310.5,369.9 L311.0,369.9 L311.5,370.0 L312.0,370.0 L312.5,370.0 L313.0,370.0 L313.5,370.0 L314.0,370.1 L314.5,370.1 L315.0,370.1 L315.5,370.1 L316.0,370.1 L316.5,370.2 L317.0,370.2 L317.5,370.2 L318.0,370.2 L318.5,370.2 L319.0,370.3 L319.5,370.3 L320.0,370.3 L320.5,370.3 L321.0,370.3 L321.5,370.4 L322.0,370.4 L322.5,370.4 L323.0,370.4 L323.5,370.4 L324.0,370.5 L324.5,370.5 L325.0,370.5 L325.5,370.5 L326.0,370.5 L326.5,370.5 L327.0,370.6 L327.5,370.6 L328.0,370.6 L328.5,370.6 L329.0,370.6 L329.5,370.7 L330.0,370.7 L330.5,370.7 L331.0,370.7 L331.5,370.7 L332.0,370.7 L332.5,370.8 L333.0,370.8 L333.5,370.8 L334.0,370.8 L334.5,370.8 L335.0,370.8 L335.5,370.9 L336.0,370.9 L336.5,370.9 L337.0,370.9 L337.5,370.9 L338.0,370.9 L338.5,371.0 L339.0,371.0 L339.5,371.0 L340.0,371.0 L340.5,371.0 L341.0,371.0 L341.5,371.0 L342.0,371.1 L342.5,371.1 L343.0,371.1 L343.5,371.1 L344.0,371.1 L344.5,371.1 L345.0,371.2 L345.5,371.2 L346.0,371.2 L346.5,371.2 L347.0,371.2 L347.5,371.2 L348.0,371.2 L348.5,371.3 L349.0,371.3 L349.5,371.3 L350.0,371.3 L350.5,371.3 L351.0,371.3 L351.5,371.4 L352.0,371.4 L352.5,371.4 L353.0,371.4 L353.5,371.4 L354.0,371.4 L354.5,371.5 L355.0,371.5 L355.5,371.5 L356.0,371.5 L356.5,371.5 L357.0,371.5 L357.5,371.5 L358.0,371.6 L358.5,371.6 L359.0,371.6 L359.5,371.6 L360.0,371.6 L360.5,371.6 L361.0,371.6 L361.5,371.7 L362.0,371.7 L362.5,371.7 L363.0,371.7 L363.5,371.7 L364.0,371.7 L364.5,371.7 L365.0,371.7 L365.5,371.8 L366.0,371.8 L366.5,371.8 L367.0,371.8 L367.5,371.8 L368.0,371.8 L368.5,371.8 L369.0,371.8 L369.5,371.9 L370.0,371.9 L370.5,371.9 L371.0,371.9 L371.5,371.9 L372.0,371.9 L372.5,371.9 L373.0,371.9 L373.5,371.9 L374.0,371.9 L374.5,371.9 L375.0,371.9 L375.5,372.0 L376.0,372.0 L376.5,372.0 L377.0,372.0 L377.5,372.0 L378.0,372.0 L378.5,372.0 L379.0,372.0 L379.5,372.0 L380.0,372.0 L380.5,372.0 L381.0,372.0 L381.5,372.0 L382.0,372.0 L382.5,372.0 L383.0,372.0 L383.5,372.0 L384.0,372.0 L384.5,372.0 L385.0,372.0 L385.5,372.0 L386.0,372.0 L386.5,372.0 L387.0,372.0 L387.5,372.0 L388.0,372.1 L388.5,372.1 L389.0,372.1 L389.5,372.1 L390.0,372.1 L390.5,372.1 L391.0,372.1 L391.5,372.1 L392.0,372.1 L392.5,372.1 L393.0,372.1 L393.5,372.1 L394.0,372.1 L394.5,372.1 L395.0,372.1 L395.5,372.1 L396.0,372.1 L396.5,372.1 L397.0,372.1 L397.5,372.1 L398.0,372.1 L398.5,372.1 L399.0,372.1 L399.5,372.1 L400.0,372.1 L400.5,372.1 L401.0,372.1 L401.5,372.1 L402.0,372.1 L402.5,372.1 L403.0,372.1 L403.5,372.1 L404.0,372.1 L404.5,372.1 L405.0,372.1 L405.5,372.1 L406.0,372.1 L406.5,372.1 L407.0,372.1 L407.5,372.1 L408.0,372.2 L408.5,372.2 L409.0,372.2 L409.5,372.2 L410.0,372.2 L410.5,372.2 L411.0,372.2 L411.5,372.2 L412.0,372.2 L412.5,372.2 L413.0,372.2 L413.5,372.2 L414.0,372.2 L414.5,372.2 L415.0,372.2 L415.5,372.2 L416.0,372.2 L416.5,372.2 L417.0,372.2 L417.5,372.2 L418.0,372.2 L418.5,372.2 L419.0,372.2 L419.5,372.2 L420.0,372.2 L420.5,372.2 L421.0,372.2 L421.5,372.2 L422.0,372.2 L422.5,372.2 L423.0,372.2 L423.5,372.2 L424.0,372.2 L424.5,372.2 L425.0,372.2 L425.5,372.2 L426.0,372.2 L426.5,372.2 L427.0,372.2 L427.5,372.2 L428.0,372.2 L428.5,372.2 L429.0,372.2 L429.5,372.2 L430.0,372.2 L430.5,372.2 L431.0,372.2 L431.5,372.2 L432.0,372.2 L432.5,372.2"/>
<path d="M290.7,346.4 L291.2,347.9 L291.7,349.3 L292.2,350.6 L292.7,351.8 L293.2,353.0 L293.6,353.8 L293.7,354.0 L294.2,355.0 L294.7,355.9 L295.2,356.8 L295.7,357.6 L296.2,358.4 L296.7,359.1 L297.2,359.8 L297.7,360.3 L298.2,360.8 L298.7,361.2 L299.2,361.6 L299.7,361.9 L300.2,362.2 L300.7,362.6 L301.2,362.8 L301.7,363.1 L301.8,363.2 L302.2,363.4 L302.7,363.7 L303.2,364.0 L303.7,364.3 L304.2,364.6 L304.7,364.8 L305.2,365.1 L305.7,365.3 L306.2,365.5 L306.7,365.7 L307.2,365.9 L307.5,366.0 L307.7,366.1 L308.2,366.2 L308.7,366.4 L309.2,366.5 L309.7,366.6 L310.2,366.7 L310.7,366.9 L311.2,367.0 L311.7,367.1 L312.2,367.2 L312.7,367.3 L313.2,367.4 L313.7,367.5 L314.2,367.6 L314.7,367.6 L315.0,367.7 L315.2,367.7 L315.7,367.8 L316.2,367.9 L316.7,368.0 L317.2,368.1 L317.7,368.2 L318.2,368.3 L318.7,368.3 L319.2,368.4 L319.7,368.5 L320.2,368.6 L320.7,368.7 L321.2,368.7 L321.7,368.8 L322.2,368.9 L322.7,369.0 L323.2,369.0 L323.7,369.1 L324.2,369.2 L324.7,369.2 L325.2,369.3 L325.7,369.4 L326.2,369.4 L326.7,369.5 L327.2,369.5 L327.7,369.6 L328.2,369.6 L328.7,369.7 L329.2,369.7 L329.7,369.8 L330.0,369.8 L330.2,369.8 L330.7,369.9 L331.2,369.9 L331.7,369.9 L332.2,370.0 L332.7,370.0 L333.2,370.1 L333.7,370.1 L334.2,370.1 L334.7,370.2 L335.2,370.2 L335.7,370.2 L336.2,370.3 L336.7,370.3 L337.2,370.3 L337.7,370.4 L338.2,370.4 L338.7,370.4 L339.2,370.5 L339.7,370.5 L340.2,370.5 L340.7,370.6 L341.2,370.6 L341.7,370.6 L342.2,370.7 L342.7,370.7 L343.2,370.7 L343.7,370.7 L344.2,370.8 L344.7,370.8 L345.2,370.8 L345.7,370.8 L346.2,370.9 L346.7,370.9 L347.2,370.9 L347.7,370.9 L348.2,370.9 L348.7,371.0 L349.2,371.0 L349.7,371.0 L350.0,371.0 L350.2,371.0 L350.7,371.0 L351.2,371.0 L351.7,371.1 L352.2,371.1 L352.7,371.1 L353.2,371.1 L353.7,371.1 L354.2,371.1 L354.7,371.2 L355.2,371.2 L355.7,371.2 L356.2,371.2 L356.7,371.2 L357.2,371.2 L357.7,371.3 L358.2,371.3 L358.7,371.3 L359.2,371.3 L359.7,371.3 L360.2,371.3 L360.7,371.3 L361.2,371.4 L361.7,371.4 L362.2,371.4 L362.7,371.4 L363.2,371.4 L363.7,371.4 L364.2,371.4 L364.7,371.5 L365.2,371.5 L365.7,371.5 L366.2,371.5 L366.7,371.5 L367.2,371.5 L367.7,371.5 L368.2,371.6 L368.7,371.6 L369.2,371.6 L369.7,371.6 L370.2,371.6 L370.7,371.6 L371.2,371.6 L371.7,371.6 L372.2,371.7 L372.7,371.7 L373.2,371.7 L373.7,371.7 L374.2,371.7 L374.7,371.7 L375.2,371.7 L375.7,371.7 L376.2,371.7 L376.7,371.7 L377.2,371.8 L377.7,371.8 L378.2,371.8 L378.7,371.8 L379.2,371.8 L379.7,371.8 L380.2,371.8 L380.7,371.8 L381.2,371.8 L381.7,371.8 L382.2,371.8 L382.7,371.8 L383.2,371.8 L383.7,371.8 L384.2,371.9 L384.7,371.9 L385.2,371.9 L385.7,371.9 L386.2,371.9 L386.7,371.9 L387.2,371.9 L387.7,371.9 L388.2,371.9 L388.7,371.9 L389.2,371.9 L389.7,371.9 L390.0,371.9 L390.2,371.9 L390.7,371.9 L391.2,371.9 L391.7,371.9 L392.2,371.9 L392.7,371.9 L393.2,371.9 L393.7,371.9 L394.2,371.9 L394.7,371.9 L395.2,371.9 L395.7,371.9 L396.2,371.9 L396.7,371.9 L397.2,371.9 L397.7,371.9 L398.2,371.9 L398.7,371.9 L399.2,371.9 L399.7,371.9 L400.2,371.9 L400.7,371.9 L401.2,371.9 L401.7,371.9 L402.2,371.9 L402.7,371.9 L403.2,371.9 L403.7,372.0 L404.2,372.0 L404.7,372.0 L405.2,372.0 L405.7,372.0 L406.2,372.0 L406.7,372.0 L407.2,372.0 L407.7,372.0 L408.2,372.0 L408.7,372.0 L409.2,372.0 L409.7,372.0 L410.2,372.0 L410.7,372.0 L411.2,372.0 L411.7,372.0 L412.2,372.0 L412.7,372.0 L413.2,372.0 L413.7,372.0 L414.2,372.0 L414.7,372.0 L415.2,372.0 L415.7,372.0 L416.2,372.0 L416.7,372.0 L417.2,372.0 L417.7,372.0 L418.2,372.0 L418.7,372.0 L419.2,372.0 L419.7,372.0 L420.2,372.0 L420.7,372.0 L421.2,372.0 L421.7,372.0 L422.2,372.0 L422.7,372.0 L423.2,372.0 L423.7,372.0 L424.2,372.0 L424.7,372.0 L425.2,372.0 L425.7,372.0 L426.2,372.0 L426.7,372.0 L427.2,372.0 L427.7,372.0 L428.2,372.0 L428.7,372.0 L429.2,372.0 L429.7,372.0 L430.2,372.0 L430.7,372.0 L431.2,372.0 L431.7,372.0 L432.2,372.0 L432.5,372.0"/>
<path d="M250.0,367.7 L250.5,367.7 L251.0,367.7 L251.5,367.6 L252.0,367.6 L252.5,367.6 L253.0,367.5 L253.5,367.5 L254.0,367.5 L254.5,367.4 L255.0,367.4 L255.5,367.4 L256.0,367.3 L256.5,367.3 L257.0,367.3 L257.5,367.3 L258.0,367.2 L258.5,367.2 L259.0,367.2 L259.5,367.2 L260.0,367.1 L260.5,367.1 L261.0,367.1 L261.5,367.1 L262.0,367.0 L262.5,367.0 L263.0,367.0 L263.5,366.9 L264.0,366.9 L264.5,366.8 L265.0,366.8 L265.5,366.8 L266.0,366.7 L266.5,366.6 L267.0,366.6 L267.5,366.5 L268.0,366.4 L268.5,366.3 L269.0,366.2 L269.5,366.1 L270.0,366.0 L270.5,365.9 L271.0,365.8 L271.5,365.7 L272.0,365.6 L272.5,365.5 L273.0,365.4 L273.5,365.3 L274.0,365.2 L274.5,365.1 L275.0,365.0 L275.5,364.9 L276.0,364.8 L276.5,364.7 L277.0,364.6 L277.5,364.6 L278.0,364.5 L278.5,364.4 L279.0,364.3 L279.5,364.2 L280.0,364.1 L280.5,364.0 L281.0,363.9 L281.5,363.7 L282.0,363.6 L282.5,363.4 L283.0,363.3 L283.5,363.1 L284.0,362.9 L284.5,362.7 L285.0,362.4 L285.5,362.2 L286.0,361.9 L286.5,361.6 L287.0,361.3 L287.5,361.0 L288.0,360.7 L288.5,360.3 L289.0,359.9 L289.5,359.5 L290.0,359.0 L290.5,358.4 L291.0,357.7 L291.5,357.0 L292.0,356.2 L292.5,355.5 L293.0,354.7 L293.5,353.6 L293.6,353.4 L294.0,352.0 L294.5,349.5 L294.8,348.0 L295.0,347.0 L295.5,344.2 L295.8,342.5 L296.0,341.5 L296.5,338.9 L296.8,336.7 L297.0,334.6 L297.3,329.1 L297.5,317.7 L297.6,312.4 L298.0,305.1 L298.4,295.0 L298.5,280.0 L298.7,267.7 L299.0,261.4 L299.1,260.0 L299.5,255.6 L300.0,259.4 L300.2,262.0 L300.5,267.1 L300.7,271.5 L301.0,280.4 L301.2,286.7 L301.5,295.0 L302.0,304.8 L302.3,317.7 L302.5,321.9 L303.0,329.1 L303.5,335.7 L303.6,336.7 L304.0,339.6 L304.4,342.0 L304.5,342.6 L305.0,345.3 L305.4,347.3 L305.5,347.8 L306.0,350.1 L306.5,351.8 L307.0,352.9 L307.5,353.7 L308.0,354.5 L308.5,355.2 L309.0,355.8 L309.5,356.3 L310.0,356.8 L310.5,357.4 L311.0,358.0 L311.5,358.7 L312.0,359.3 L312.5,360.0 L313.0,360.7 L313.5,361.4 L314.0,362.1 L314.5,362.7 L315.0,363.4 L315.5,364.0 L316.0,364.5 L316.5,365.0 L317.0,365.4 L317.5,365.7 L318.0,366.0 L318.5,366.2 L319.0,366.5 L319.5,366.7 L320.0,366.9 L320.5,367.1 L321.0,367.3 L321.5,367.5 L322.0,367.6 L322.5,367.8 L323.0,368.0 L323.5,368.1 L324.0,368.2 L324.5,368.4 L325.0,368.5 L325.5,368.6 L326.0,368.8 L326.5,368.9 L327.0,369.0 L327.5,369.1 L328.0,369.3 L328.5,369.4 L329.0,369.5 L329.5,369.6 L330.0,369.7 L330.5,369.8 L331.0,369.9 L331.5,370.0 L332.0,370.1 L332.5,370.2 L333.0,370.2 L333.5,370.3 L334.0,370.4 L334.5,370.4 L335.0,370.4 L335.5,370.5 L336.0,370.5 L336.5,370.6 L337.0,370.6 L337.5,370.6 L338.0,370.7 L338.5,370.7 L339.0,370.7 L339.5,370.8 L340.0,370.8 L340.5,370.9 L341.0,370.9 L341.5,370.9 L342.0,370.9 L342.5,371.0 L343.0,371.0 L343.5,371.0 L344.0,371.1 L344.5,371.1 L345.0,371.1 L345.5,371.1 L346.0,371.2 L346.5,371.2 L347.0,371.2 L347.5,371.2 L348.0,371.3 L348.5,371.3 L349.0,371.3 L349.5,371.3 L350.0,371.3 L350.5,371.4 L351.0,371.4 L351.5,371.4 L352.0,371.4 L352.5,371.4 L353.0,371.5 L353.5,371.5 L354.0,371.5 L354.5,371.5 L355.0,371.5 L355.5,371.5 L356.0,371.5 L356.5,371.5 L357.0,371.6 L357.5,371.6 L358.0,371.6 L358.5,371.6 L359.0,371.6 L359.5,371.6 L360.0,371.6 L360.5,371.6 L361.0,371.6 L361.5,371.6 L362.0,371.6 L362.5,371.6 L363.0,371.6 L363.5,371.6 L364.0,371.6 L364.5,371.6 L365.0,371.7 L365.5,371.7 L366.0,371.7 L366.5,371.7 L367.0,371.7 L367.5,371.7 L368.0,371.7 L368.5,371.7 L369.0,371.7 L369.5,371.7 L370.0,371.7 L370.5,371.7 L371.0,371.7 L371.5,371.7 L372.0,371.7 L372.5,371.7 L373.0,371.7 L373.5,371.7 L374.0,371.7 L374.5,371.7 L375.0,371.8 L375.5,371.8 L376.0,371.8 L376.5,371.8 L377.0,371.8 L377.5,371.8 L378.0,371.8 L378.5,371.8 L379.0,371.8 L379.5,371.8 L380.0,371.8 L380.5,371.8 L381.0,371.8 L381.5,371.8 L382.0,371.8 L382.5,371.8 L383.0,371.8 L383.5,371.8 L384.0,371.8 L384.5,371.8 L385.0,371.8 L385.5,371.8 L386.0,371.8 L386.5,371.8 L387.0,371.8 L387.5,371.8 L388.0,371.9 L388.5,371.9 L389.0,371.9 L389.5,371.9 L390.0,371.9 L390.5,371.9 L391.0,371.9 L391.5,371.9 L392.0,371.9 L392.5,371.9 L393.0,371.9 L393.5,371.9 L394.0,371.9 L394.5,371.9 L395.0,371.9 L395.5,371.9 L396.0,371.9 L396.5,371.9 L397.0,371.9 L397.5,371.9 L398.0,371.9 L398.5,371.9 L399.0,371.9 L399.5,371.9 L400.0,371.9 L400.5,371.9 L401.0,371.9 L401.5,371.9 L402.0,371.9 L402.5,371.9 L403.0,371.9 L403.5,371.9 L404.0,371.9 L404.5,371.9 L405.0,371.9 L405.5,371.9 L406.0,371.9 L406.5,372.0 L407.0,372.0 L407.5,372.0 L408.0,372.0 L408.5,372.0 L409.0,372.0 L409.5,372.0 L410.0,372.0 L410.5,372.0 L411.0,372.0 L411.5,372.0 L412.0,372.0 L412.5,372.0 L413.0,372.0 L413.5,372.0 L414.0,372.0 L414.5,372.0 L415.0,372.0 L415.5,372.0 L416.0,372.0 L416.5,372.0 L417.0,372.0 L417.5,372.0 L418.0,372.0 L418.5,372.0 L419.0,372.0 L419.5,372.0 L420.0,372.0 L420.5,372.0 L421.0,372.0 L421.5,372.0 L422.0,372.0 L422.5,372.0 L423.0,372.0 L423.5,372.0 L424.0,372.0 L424.5,372.0 L425.0,372.0 L425.5,372.0 L426.0,372.0 L426.5,372.0 L427.0,372.0 L427.5,372.0 L428.0,372.0 L428.5,372.0 L429.0,372.0 L429.5,372.0 L430.0,372.0 L430.5,372.0 L431.0,372.0 L431.5,372.0 L432.0,372.0 L432.5,372.0"/>
<path d="M250.0,368.0 L250.5,368.0 L251.0,368.0 L251.5,367.9 L252.0,367.9 L252.5,367.9 L253.0,367.9 L253.5,367.9 L254.0,367.8 L254.5,367.8 L255.0,367.8 L255.5,367.8 L256.0,367.7 L256.5,367.7 L257.0,367.7 L257.5,367.7 L258.0,367.6 L258.5,367.6 L259.0,367.6 L259.5,367.5 L260.0,367.5 L260.5,367.5 L261.0,367.4 L261.5,367.4 L262.0,367.4 L262.5,367.3 L263.0,367.3 L263.5,367.2 L264.0,367.2 L264.5,367.1 L265.0,367.1 L265.5,367.0 L266.0,367.0 L266.5,367.0 L267.0,366.9 L267.5,366.9 L268.0,366.8 L268.5,366.7 L269.0,366.7 L269.5,366.6 L270.0,366.6 L270.5,366.5 L271.0,366.5 L271.5,366.4 L272.0,366.4 L272.5,366.3 L273.0,366.2 L273.5,366.2 L274.0,366.1 L274.5,366.1 L275.0,366.0 L275.5,365.9 L276.0,365.9 L276.5,365.8 L277.0,365.7 L277.5,365.7 L278.0,365.6 L278.5,365.5 L279.0,365.4 L279.5,365.4 L280.0,365.3 L280.5,365.2 L281.0,365.1 L281.5,365.0 L282.0,364.9 L282.5,364.8 L283.0,364.7 L283.5,364.6 L284.0,364.5 L284.5,364.4 L285.0,364.3 L285.5,364.2 L286.0,364.1 L286.5,364.0 L287.0,363.9 L287.5,363.7 L288.0,363.6 L288.5,363.5 L289.0,363.3 L289.5,363.2 L290.0,363.1 L290.5,362.9 L291.0,362.8 L291.5,362.6 L292.0,362.4 L292.5,362.2 L293.0,362.0 L293.5,361.8 L294.0,361.6 L294.5,361.4 L295.0,361.1 L295.5,360.9 L296.0,360.6 L296.5,360.3 L297.0,360.0 L297.5,359.6 L297.7,359.5 L298.0,359.3 L298.5,358.8 L299.0,358.2 L299.5,357.5 L300.0,356.8 L300.5,356.0 L301.0,355.1 L301.5,354.3 L301.8,353.8 L302.0,353.5 L302.5,352.7 L303.0,351.9 L303.5,351.0 L304.0,349.9 L304.5,348.7 L305.0,347.3 L305.5,344.9 L306.0,341.8 L306.5,338.9 L307.0,336.5 L307.5,334.4 L308.0,332.9 L308.5,331.9 L309.0,330.9 L309.5,330.2 L310.0,329.7 L310.5,329.5 L311.0,329.8 L311.5,330.5 L312.0,331.5 L312.5,332.7 L312.6,332.9 L313.0,334.2 L313.5,336.3 L314.0,338.5 L314.1,338.9 L314.5,340.3 L315.0,342.1 L315.5,343.8 L316.0,345.4 L316.4,346.5 L316.5,346.8 L317.0,348.1 L317.5,349.3 L318.0,350.5 L318.5,351.6 L319.0,352.6 L319.4,353.3 L319.5,353.5 L320.0,354.3 L320.5,355.2 L321.0,356.0 L321.5,356.8 L322.0,357.6 L322.5,358.3 L323.0,359.0 L323.5,359.6 L324.0,360.1 L324.5,360.6 L325.0,361.0 L325.5,361.3 L326.0,361.7 L326.5,361.9 L327.0,362.2 L327.5,362.5 L328.0,362.7 L328.5,362.9 L329.0,363.1 L329.5,363.3 L330.0,363.5 L330.5,363.7 L330.8,363.8 L331.0,363.9 L331.5,364.1 L332.0,364.2 L332.5,364.4 L333.0,364.6 L333.5,364.7 L334.0,364.9 L334.5,365.0 L335.0,365.2 L335.5,365.3 L336.0,365.4 L336.5,365.6 L337.0,365.7 L337.5,365.8 L338.0,366.0 L338.5,366.1 L339.0,366.2 L339.5,366.4 L340.0,366.5 L340.5,366.6 L341.0,366.8 L341.5,366.9 L342.0,367.0 L342.5,367.2 L343.0,367.3 L343.5,367.4 L344.0,367.6 L344.5,367.7 L345.0,367.8 L345.5,368.0 L346.0,368.1 L346.5,368.2 L347.0,368.3 L347.5,368.4 L348.0,368.5 L348.5,368.6 L349.0,368.7 L349.5,368.8 L349.7,368.8 L350.0,368.8 L350.5,368.9 L351.0,369.0 L351.5,369.1 L352.0,369.1 L352.5,369.2 L353.0,369.3 L353.5,369.3 L354.0,369.4 L354.5,369.5 L355.0,369.5 L355.5,369.6 L356.0,369.6 L356.5,369.7 L357.0,369.7 L357.5,369.8 L358.0,369.9 L358.5,369.9 L359.0,370.0 L359.5,370.0 L360.0,370.1 L360.5,370.1 L361.0,370.2 L361.5,370.2 L362.0,370.3 L362.5,370.3 L363.0,370.3 L363.5,370.4 L364.0,370.4 L364.5,370.5 L365.0,370.5 L365.5,370.5 L366.0,370.6 L366.5,370.6 L367.0,370.6 L367.5,370.7 L368.0,370.7 L368.5,370.7 L369.0,370.7 L369.5,370.8 L370.0,370.8 L370.5,370.8 L371.0,370.8 L371.5,370.9 L372.0,370.9 L372.5,370.9 L373.0,370.9 L373.5,371.0 L374.0,371.0 L374.5,371.0 L375.0,371.0 L375.5,371.0 L376.0,371.1 L376.5,371.1 L377.0,371.1 L377.5,371.1 L378.0,371.2 L378.5,371.2 L379.0,371.2 L379.5,371.2 L380.0,371.2 L380.5,371.3 L381.0,371.3 L381.5,371.3 L382.0,371.3 L382.5,371.3 L383.0,371.3 L383.5,371.4 L384.0,371.4 L384.5,371.4 L385.0,371.4 L385.5,371.4 L386.0,371.4 L386.5,371.5 L387.0,371.5 L387.5,371.5 L388.0,371.5 L388.5,371.5 L389.0,371.5 L389.5,371.5 L390.0,371.5 L390.5,371.6 L391.0,371.6 L391.5,371.6 L392.0,371.6 L392.5,371.6 L393.0,371.6 L393.5,371.6 L394.0,371.6 L394.5,371.6 L395.0,371.6 L395.5,371.7 L396.0,371.7 L396.5,371.7 L397.0,371.7 L397.5,371.7 L398.0,371.7 L398.5,371.7 L399.0,371.7 L399.5,371.7 L400.0,371.7 L400.5,371.7 L401.0,371.7 L401.5,371.7 L402.0,371.7 L402.5,371.7 L403.0,371.7 L403.5,371.7 L404.0,371.7 L404.5,371.7 L405.0,371.7 L405.5,371.7 L406.0,371.7 L406.5,371.7 L407.0,371.7 L407.5,371.7 L408.0,371.7 L408.5,371.7 L409.0,371.7 L409.5,371.7 L410.0,371.7 L410.5,371.8 L411.0,371.8 L411.5,371.8 L412.0,371.8 L412.5,371.8 L413.0,371.8 L413.5,371.8 L414.0,371.8 L414.5,371.8 L415.0,371.8 L415.5,371.8 L416.0,371.8 L416.5,371.8 L417.0,371.8 L417.5,371.8 L418.0,371.8 L418.5,371.8 L419.0,371.8 L419.5,371.8 L420.0,371.8 L420.5,371.8 L421.0,371.8 L421.5,371.8 L422.0,371.8 L422.5,371.8 L423.0,371.8 L423.5,371.8 L424.0,371.8 L424.5,371.8 L425.0,371.8 L425.5,371.8 L426.0,371.8 L426.5,371.8 L427.0,371.8 L427.5,371.8 L428.0,371.8 L428.5,371.8 L429.0,371.8 L429.5,371.8 L430.0,371.8 L430.5,371.8 L431.0,371.8 L431.5,371.8 L432.0,371.8 L432.5,371.8"/>
<path d="M200.6,520.1 L201.1,520.1 L201.6,520.1 L202.1,520.1 L202.6,520.1 L203.1,520.1 L203.6,520.1 L204.1,520.1 L204.6,520.0 L205.1,520.0 L205.6,520.0 L206.1,520.0 L206.6,520.0 L207.1,520.0 L207.6,520.0 L208.1,520.0 L208.6,520.0 L209.1,520.0 L209.6,520.0 L210.1,519.9 L210.6,519.9 L211.1,519.9 L211.6,519.9 L212.1,519.9 L212.6,519.9 L213.1,519.9 L213.6,519.9 L214.1,519.8 L214.6,519.8 L215.1,519.8 L215.6,519.8 L216.1,519.8 L216.6,519.8 L217.1,519.8 L217.6,519.7 L218.1,519.7 L218.6,519.7 L219.1,519.7 L219.6,519.7 L220.1,519.7 L220.6,519.6 L221.1,519.6 L221.6,519.6 L222.1,519.6 L222.6,519.6 L223.1,519.6 L223.6,519.5 L224.1,519.5 L224.6,519.5 L225.1,519.5 L225.6,519.5 L226.1,519.4 L226.6,519.4 L227.1,519.4 L227.6,519.4 L228.1,519.4 L228.6,519.4 L229.1,519.3 L229.6,519.3 L230.0,519.3 L230.1,519.3 L230.6,519.3 L231.1,519.3 L231.6,519.2 L232.1,519.2 L232.6,519.2 L233.1,519.2 L233.6,519.2 L234.1,519.1 L234.6,519.1 L235.1,519.1 L235.6,519.1 L236.1,519.0 L236.6,519.0 L237.1,519.0 L237.6,519.0 L238.1,518.9 L238.6,518.9 L239.1,518.9 L239.6,518.9 L240.1,518.8 L240.6,518.8 L241.1,518.8 L241.6,518.8 L242.1,518.7 L242.6,518.7 L243.1,518.7 L243.6,518.6 L244.1,518.6 L244.6,518.6 L245.1,518.5 L245.6,518.5 L246.1,518.5 L246.6,518.4 L247.1,518.4 L247.6,518.4 L248.1,518.3 L248.6,518.3 L249.1,518.3 L249.6,518.2 L250.1,518.2 L250.6,518.2 L251.1,518.1 L251.6,518.1 L252.1,518.0 L252.6,518.0 L253.1,518.0 L253.6,517.9 L254.1,517.9 L254.6,517.8 L255.0,517.8 L255.1,517.8 L255.6,517.7 L256.1,517.7 L256.6,517.6 L257.1,517.6 L257.6,517.5 L258.1,517.5 L258.6,517.4 L259.1,517.4 L259.6,517.3 L260.1,517.2 L260.6,517.2 L261.1,517.1 L261.6,517.0 L262.1,517.0 L262.6,516.9 L263.1,516.8 L263.6,516.7 L264.1,516.7 L264.6,516.6 L265.1,516.5 L265.6,516.4 L266.1,516.3 L266.6,516.2 L267.1,516.2 L267.6,516.1 L268.0,516.0 L268.1,516.0 L268.6,515.9 L269.1,515.8 L269.6,515.7 L270.1,515.6 L270.6,515.5 L271.1,515.4 L271.6,515.3 L272.1,515.2 L272.6,515.1 L273.1,515.0 L273.6,514.8 L274.1,514.6 L274.6,514.5 L274.8,514.4 L275.1,514.3 L275.6,514.0 L276.1,513.6 L276.6,513.2 L277.1,512.8 L277.6,512.4 L278.1,511.9 L278.6,511.6 L278.7,511.5 L279.1,511.2 L279.6,510.8 L280.1,510.4 L280.6,510.0 L281.1,509.7 L281.6,509.4 L282.1,509.3 L282.2,509.3 L282.6,509.4 L283.1,509.7 L283.6,510.2 L284.1,510.8 L284.6,511.4 L285.1,512.0 L285.6,512.5 L286.1,512.9 L286.6,513.4 L287.1,513.8 L287.6,514.3 L288.1,514.7 L288.6,515.1 L289.1,515.5 L289.6,515.8 L290.0,516.0 L290.1,516.0 L290.6,516.3 L291.1,516.5 L291.6,516.7 L292.1,516.9 L292.6,517.1 L293.1,517.2 L293.6,517.4 L294.1,517.6 L294.6,517.7 L295.1,517.8 L295.6,518.0 L296.1,518.1 L296.6,518.2 L297.1,518.3 L297.4,518.4 L297.6,518.4 L298.1,518.5 L298.6,518.6 L299.1,518.7 L299.6,518.8 L300.1,518.9 L300.6,519.0 L301.1,519.1 L301.6,519.2 L302.1,519.2 L302.6,519.3 L303.1,519.4 L303.6,519.5 L304.1,519.5 L304.6,519.6 L305.1,519.7 L305.4,519.7 L305.6,519.7 L306.1,519.8 L306.6,519.9 L307.1,519.9 L307.6,520.0 L308.1,520.1 L308.6,520.1 L309.1,520.2 L309.6,520.3 L310.1,520.3 L310.6,520.4 L311.1,520.5 L311.6,520.5 L312.1,520.6 L312.6,520.6 L313.1,520.7 L313.6,520.8 L314.1,520.8 L314.6,520.9 L315.1,520.9 L315.6,521.0 L316.1,521.0 L316.6,521.1 L317.1,521.1 L317.6,521.2 L318.1,521.2 L318.6,521.3 L319.1,521.3 L319.6,521.4 L320.0,521.4 L320.1,521.4 L320.6,521.4 L321.1,521.5 L321.6,521.5 L322.1,521.6 L322.6,521.6 L323.1,521.6 L323.6,521.7 L324.1,521.7 L324.6,521.7 L325.1,521.8 L325.6,521.8 L326.1,521.8 L326.6,521.9 L327.1,521.9 L327.6,521.9 L328.1,522.0 L328.6,522.0 L329.1,522.0 L329.6,522.0 L330.1,522.1 L330.6,522.1 L331.1,522.1 L331.6,522.1 L332.1,522.2 L332.6,522.2 L333.1,522.2 L333.6,522.2 L334.1,522.3 L334.6,522.3 L335.1,522.3 L335.3,522.3 L335.6,522.3 L336.1,522.3 L336.6,522.3 L337.1,522.4 L337.6,522.4 L338.1,522.4 L338.6,522.4 L339.1,522.4 L339.6,522.4 L340.1,522.5 L340.6,522.5 L341.1,522.5 L341.6,522.5 L342.1,522.5 L342.6,522.5 L343.1,522.5 L343.6,522.6 L344.1,522.6 L344.6,522.6 L345.1,522.6 L345.6,522.6 L346.1,522.6 L346.6,522.6 L347.1,522.6 L347.6,522.6 L348.1,522.7 L348.6,522.7 L349.1,522.7 L349.6,522.7 L350.0,522.7 L350.1,522.7 L350.6,522.7 L351.1,522.7 L351.6,522.7 L352.1,522.7 L352.6,522.8 L353.1,522.8 L353.6,522.8 L354.1,522.8 L354.6,522.8 L355.1,522.8 L355.6,522.8 L356.1,522.8 L356.6,522.8 L357.1,522.9 L357.6,522.9 L358.1,522.9 L358.6,522.9 L359.1,522.9 L359.6,522.9 L360.1,522.9 L360.6,522.9 L361.1,523.0 L361.6,523.0 L362.1,523.0 L362.6,523.0 L363.1,523.0 L363.6,523.0 L364.1,523.0 L364.6,523.0 L365.1,523.0 L365.6,523.0 L366.1,523.1 L366.6,523.1 L367.1,523.1 L367.6,523.1 L368.1,523.1 L368.6,523.1 L369.1,523.1 L369.6,523.1 L370.1,523.1 L370.6,523.2 L371.1,523.2 L371.6,523.2 L372.1,523.2 L372.6,523.2 L373.1,523.2 L373.6,523.2 L374.1,523.2 L374.6,523.2 L375.1,523.2 L375.6,523.2 L376.1,523.2 L376.6,523.3 L377.1,523.3 L377.6,523.3 L378.1,523.3 L378.6,523.3 L379.1,523.3 L379.6,523.3 L380.1,523.3 L380.6,523.3 L381.1,523.3 L381.6,523.3 L382.1,523.3 L382.6,523.3 L383.1,523.3 L383.6,523.4 L384.1,523.4 L384.6,523.4 L385.1,523.4 L385.6,523.4 L386.1,523.4 L386.6,523.4 L387.1,523.4 L387.6,523.4 L388.1,523.4 L388.6,523.4 L389.1,523.4 L389.6,523.4 L390.0,523.4 L390.1,523.4 L390.6,523.4 L391.1,523.4 L391.6,523.4 L392.1,523.4 L392.6,523.4 L393.1,523.4 L393.6,523.4 L394.1,523.4 L394.6,523.4 L395.1,523.4 L395.6,523.4 L396.1,523.4 L396.6,523.4 L397.1,523.4 L397.6,523.4 L398.1,523.4 L398.6,523.4 L399.1,523.4 L399.6,523.4 L400.1,523.4 L400.6,523.4 L401.1,523.4 L401.6,523.4 L402.1,523.4 L402.6,523.4 L403.1,523.4 L403.6,523.5 L404.1,523.5 L404.6,523.5 L405.1,523.5 L405.6,523.5 L406.1,523.5 L406.6,523.5 L407.1,523.5 L407.6,523.5 L408.1,523.5 L408.6,523.5 L409.1,523.5 L409.6,523.5 L410.1,523.5 L410.6,523.5 L411.1,523.5 L411.6,523.5 L412.1,523.5 L412.6,523.5 L413.1,523.5 L413.6,523.5 L414.1,523.5 L414.6,523.5 L415.1,523.5 L415.6,523.5 L416.1,523.5 L416.6,523.5 L417.1,523.5 L417.6,523.5 L418.1,523.5 L418.6,523.5 L419.1,523.5 L419.6,523.5 L420.1,523.5 L420.6,523.5 L421.1,523.5 L421.6,523.5 L422.1,523.5 L422.6,523.5 L423.1,523.5 L423.6,523.5 L424.1,523.5 L424.6,523.5 L425.1,523.5 L425.6,523.5 L426.1,523.5 L426.6,523.5 L427.1,523.5 L427.6,523.5 L428.1,523.5 L428.6,523.5 L429.1,523.5 L429.6,523.5 L430.1,523.5 L430.6,523.5 L431.1,523.5 L431.6,523.5 L432.1,523.5 L432.5,523.5"/>
<path d="M246.1,518.3 L246.6,518.2 L247.1,518.2 L247.6,518.1 L248.1,518.1 L248.6,518.1 L249.1,518.0 L249.6,518.0 L250.1,517.9 L250.6,517.9 L251.1,517.8 L251.6,517.8 L252.1,517.8 L252.6,517.7 L253.1,517.7 L253.6,517.6 L254.1,517.6 L254.6,517.5 L255.0,517.5 L255.1,517.5 L255.6,517.4 L256.1,517.4 L256.6,517.4 L257.1,517.3 L257.6,517.3 L258.1,517.2 L258.6,517.2 L259.1,517.1 L259.6,517.1 L260.1,517.0 L260.6,517.0 L261.1,516.9 L261.6,516.9 L262.1,516.8 L262.6,516.8 L263.1,516.7 L263.6,516.7 L264.1,516.6 L264.6,516.6 L265.1,516.5 L265.6,516.5 L266.1,516.4 L266.6,516.4 L267.1,516.3 L267.6,516.2 L268.1,516.2 L268.6,516.1 L269.1,516.0 L269.6,516.0 L270.1,515.9 L270.6,515.9 L271.1,515.8 L271.6,515.7 L272.1,515.6 L272.6,515.6 L273.1,515.5 L273.6,515.4 L274.1,515.3 L274.6,515.3 L275.0,515.2 L275.1,515.2 L275.6,515.1 L276.1,515.0 L276.6,514.9 L277.1,514.9 L277.6,514.8 L278.1,514.7 L278.6,514.6 L279.1,514.5 L279.6,514.4 L280.1,514.3 L280.6,514.2 L281.1,514.1 L281.6,514.0 L282.1,513.8 L282.6,513.7 L283.1,513.5 L283.6,513.3 L284.1,513.1 L284.6,512.9 L285.1,512.6 L285.6,512.2 L286.1,511.7 L286.6,511.0 L287.1,510.3 L287.6,509.6 L288.0,509.0 L288.1,508.8 L288.6,508.0 L289.1,507.1 L289.6,505.9 L290.0,504.7 L290.1,504.4 L290.6,502.0 L291.1,498.9 L291.3,497.5 L291.6,495.0 L292.1,490.0 L292.6,485.2 L292.8,483.0 L293.1,478.7 L293.4,474.0 L293.6,470.7 L294.1,462.3 L294.4,460.2 L294.6,461.2 L295.1,468.9 L295.4,474.0 L295.6,476.9 L296.0,483.0 L296.1,484.8 L296.4,490.0 L296.6,492.3 L297.1,496.6 L297.3,498.0 L297.6,500.1 L298.1,503.2 L298.6,505.2 L299.1,506.4 L299.6,507.3 L300.1,508.1 L300.6,508.8 L301.1,509.3 L301.6,509.9 L302.1,510.4 L302.3,510.6 L302.6,510.9 L303.1,511.4 L303.6,512.0 L304.1,512.5 L304.6,512.9 L305.1,513.4 L305.6,513.8 L306.1,514.3 L306.6,514.7 L307.1,515.0 L307.6,515.4 L308.1,515.7 L308.6,516.0 L309.1,516.3 L309.6,516.5 L310.1,516.7 L310.6,516.9 L311.1,517.1 L311.6,517.3 L312.1,517.5 L312.6,517.6 L313.1,517.8 L313.6,517.9 L314.1,518.1 L314.6,518.2 L315.1,518.4 L315.6,518.5 L316.1,518.6 L316.6,518.7 L317.1,518.8 L317.6,518.9 L318.1,519.0 L318.6,519.1 L319.1,519.2 L319.6,519.3 L320.0,519.4 L320.1,519.4 L320.6,519.5 L321.1,519.6 L321.6,519.7 L322.1,519.8 L322.6,519.8 L323.1,519.9 L323.6,520.0 L324.1,520.1 L324.6,520.1 L325.1,520.2 L325.6,520.3 L326.1,520.3 L326.6,520.4 L327.1,520.5 L327.6,520.5 L328.1,520.6 L328.6,520.7 L329.1,520.7 L329.6,520.8 L330.1,520.8 L330.6,520.9 L331.1,520.9 L331.6,521.0 L332.1,521.0 L332.6,521.1 L333.1,521.1 L333.6,521.2 L334.1,521.2 L334.6,521.3 L335.0,521.3 L335.1,521.3 L335.6,521.4 L336.1,521.4 L336.6,521.4 L337.1,521.5 L337.6,521.5 L338.1,521.6 L338.6,521.6 L339.1,521.7 L339.6,521.7 L340.1,521.7 L340.6,521.8 L341.1,521.8 L341.6,521.9 L342.1,521.9 L342.6,521.9 L343.1,522.0 L343.6,522.0 L344.1,522.0 L344.6,522.1 L345.1,522.1 L345.6,522.1 L346.1,522.1 L346.6,522.2 L347.1,522.2 L347.6,522.2 L348.1,522.2 L348.6,522.3 L349.1,522.3 L349.6,522.3 L350.0,522.3 L350.1,522.3 L350.6,522.3 L351.1,522.3 L351.6,522.3 L352.1,522.4 L352.6,522.4 L353.1,522.4 L353.6,522.4 L354.1,522.4 L354.6,522.4 L355.1,522.4 L355.6,522.4 L356.1,522.4 L356.6,522.5 L357.1,522.5 L357.6,522.5 L358.1,522.5 L358.6,522.5 L359.1,522.5 L359.6,522.5 L360.1,522.5 L360.6,522.5 L361.1,522.6 L361.6,522.6 L362.1,522.6 L362.6,522.6 L363.1,522.6 L363.6,522.6 L364.1,522.6 L364.6,522.6 L365.1,522.6 L365.6,522.6 L366.1,522.7 L366.6,522.7 L367.1,522.7 L367.6,522.7 L368.1,522.7 L368.6,522.7 L369.1,522.7 L369.6,522.7 L370.1,522.7 L370.6,522.7 L371.1,522.7 L371.6,522.8 L372.1,522.8 L372.6,522.8 L373.1,522.8 L373.6,522.8 L374.1,522.8 L374.6,522.8 L375.1,522.8 L375.6,522.8 L376.1,522.8 L376.6,522.8 L377.1,522.9 L377.6,522.9 L378.1,522.9 L378.6,522.9 L379.1,522.9 L379.6,522.9 L380.1,522.9 L380.6,522.9 L381.1,522.9 L381.6,522.9 L382.1,522.9 L382.6,522.9 L383.1,522.9 L383.6,523.0 L384.1,523.0 L384.6,523.0 L385.1,523.0 L385.6,523.0 L386.1,523.0 L386.6,523.0 L387.1,523.0 L387.6,523.0 L388.1,523.0 L388.6,523.0 L389.1,523.0 L389.6,523.0 L390.1,523.0 L390.6,523.0 L391.1,523.0 L391.6,523.1 L392.1,523.1 L392.6,523.1 L393.1,523.1 L393.6,523.1 L394.1,523.1 L394.6,523.1 L395.1,523.1 L395.6,523.1 L396.1,523.1 L396.6,523.1 L397.1,523.1 L397.6,523.1 L398.1,523.1 L398.6,523.1 L399.1,523.1 L399.6,523.1 L400.1,523.1 L400.6,523.2 L401.1,523.2 L401.6,523.2 L402.1,523.2 L402.6,523.2 L403.1,523.2 L403.6,523.2 L404.1,523.2 L404.6,523.2 L405.1,523.2 L405.6,523.2 L406.1,523.2 L406.6,523.2 L407.1,523.2 L407.6,523.2 L408.1,523.2 L408.6,523.2 L409.1,523.2 L409.6,523.2 L410.1,523.2 L410.6,523.2 L411.1,523.2 L411.6,523.2 L412.1,523.2 L412.6,523.2 L413.1,523.2 L413.6,523.2 L414.1,523.3 L414.6,523.3 L415.1,523.3 L415.6,523.3 L416.1,523.3 L416.6,523.3 L417.1,523.3 L417.6,523.3 L418.1,523.3 L418.6,523.3 L419.1,523.3 L419.6,523.3 L420.1,523.3 L420.6,523.3 L421.1,523.3 L421.6,523.3 L422.1,523.3 L422.6,523.3 L423.1,523.3 L423.6,523.3 L424.1,523.3 L424.6,523.3 L425.1,523.3 L425.6,523.3 L426.1,523.3 L426.6,523.3 L427.1,523.3 L427.6,523.3 L428.1,523.3 L428.6,523.3 L429.1,523.3 L429.6,523.3 L430.1,523.3 L430.6,523.3 L431.1,523.3 L431.6,523.3 L432.1,523.3 L432.5,523.3"/>
<path d="M246.1,518.2 L246.6,518.2 L247.1,518.1 L247.6,518.1 L248.1,518.0 L248.6,518.0 L249.1,518.0 L249.6,517.9 L250.1,517.9 L250.6,517.8 L251.1,517.8 L251.6,517.8 L252.1,517.7 L252.6,517.7 L253.1,517.6 L253.6,517.6 L254.1,517.6 L254.6,517.5 L255.0,517.5 L255.1,517.5 L255.6,517.5 L256.1,517.4 L256.6,517.4 L257.1,517.4 L257.6,517.3 L258.1,517.3 L258.6,517.3 L259.1,517.2 L259.6,517.2 L260.1,517.2 L260.6,517.1 L261.1,517.1 L261.6,517.1 L262.1,517.0 L262.6,517.0 L263.1,517.0 L263.6,516.9 L264.1,516.9 L264.6,516.9 L265.1,516.8 L265.6,516.8 L266.1,516.8 L266.6,516.7 L267.1,516.7 L267.6,516.7 L268.1,516.6 L268.6,516.6 L269.1,516.6 L269.6,516.5 L270.1,516.5 L270.6,516.4 L271.1,516.4 L271.6,516.3 L272.1,516.3 L272.6,516.2 L273.1,516.2 L273.6,516.1 L274.1,516.1 L274.6,516.0 L275.0,516.0 L275.1,516.0 L275.6,515.9 L276.1,515.9 L276.6,515.8 L277.1,515.7 L277.6,515.7 L278.1,515.6 L278.6,515.5 L279.1,515.5 L279.6,515.4 L280.1,515.3 L280.6,515.2 L281.1,515.1 L281.6,515.0 L282.1,514.9 L282.6,514.8 L283.1,514.7 L283.6,514.6 L284.1,514.5 L284.6,514.4 L285.1,514.3 L285.6,514.2 L286.1,514.1 L286.6,513.9 L287.1,513.8 L287.6,513.7 L288.1,513.6 L288.6,513.4 L289.1,513.3 L289.6,513.1 L290.0,513.0 L290.1,513.0 L290.6,512.8 L291.1,512.6 L291.6,512.4 L292.1,512.2 L292.6,512.0 L293.1,511.7 L293.6,511.5 L294.1,511.2 L294.6,510.8 L294.9,510.6 L295.1,510.4 L295.6,510.0 L296.1,509.4 L296.6,508.7 L297.1,508.0 L297.6,507.1 L298.1,506.2 L298.6,505.2 L299.1,504.0 L299.6,502.5 L300.1,500.7 L300.4,499.5 L300.6,498.7 L301.1,496.2 L301.3,494.9 L301.6,492.3 L301.9,488.0 L302.1,481.7 L302.2,478.0 L302.5,468.0 L302.6,465.3 L302.8,460.5 L303.1,452.9 L303.4,446.8 L303.6,444.3 L304.1,439.6 L304.3,437.7 L304.6,434.5 L305.0,430.0 L305.1,428.5 L305.4,424.8 L305.6,426.2 L305.9,430.0 L306.1,431.6 L306.6,434.9 L306.9,437.7 L307.1,440.4 L307.4,446.8 L307.6,456.1 L307.7,460.5 L308.1,470.8 L308.2,472.6 L308.6,477.7 L308.8,480.0 L309.1,484.2 L309.6,490.0 L310.1,492.5 L310.6,494.2 L311.1,495.7 L311.3,496.4 L311.6,497.5 L312.1,499.4 L312.6,501.2 L313.0,502.3 L313.1,502.5 L313.6,503.6 L314.1,504.5 L314.6,505.4 L315.1,506.2 L315.6,506.9 L316.1,507.6 L316.5,508.1 L316.6,508.2 L317.1,508.9 L317.6,509.5 L318.1,510.1 L318.6,510.7 L319.1,511.2 L319.6,511.7 L320.0,512.1 L320.1,512.2 L320.6,512.6 L321.1,513.0 L321.6,513.4 L322.1,513.8 L322.6,514.1 L323.1,514.5 L323.6,514.8 L324.1,515.1 L324.6,515.4 L325.1,515.7 L325.6,515.9 L326.1,516.2 L326.2,516.2 L326.6,516.4 L327.1,516.6 L327.6,516.8 L328.1,517.0 L328.6,517.2 L329.1,517.4 L329.6,517.6 L330.1,517.8 L330.6,518.0 L331.1,518.1 L331.6,518.3 L332.1,518.4 L332.6,518.6 L333.1,518.7 L333.6,518.8 L334.1,519.0 L334.6,519.1 L335.1,519.2 L335.3,519.2 L335.6,519.3 L336.1,519.3 L336.6,519.4 L337.1,519.5 L337.6,519.6 L338.1,519.6 L338.6,519.7 L339.1,519.8 L339.6,519.8 L340.1,519.9 L340.6,519.9 L341.1,520.0 L341.6,520.0 L342.1,520.1 L342.6,520.1 L343.1,520.2 L343.6,520.2 L344.1,520.3 L344.6,520.3 L345.1,520.4 L345.6,520.4 L346.1,520.5 L346.6,520.5 L347.1,520.6 L347.6,520.6 L348.1,520.6 L348.6,520.7 L349.1,520.7 L349.6,520.8 L350.0,520.8 L350.1,520.8 L350.6,520.9 L351.1,520.9 L351.6,520.9 L352.1,521.0 L352.6,521.0 L353.1,521.1 L353.6,521.1 L354.1,521.1 L354.6,521.2 L355.1,521.2 L355.6,521.3 L356.1,521.3 L356.6,521.4 L357.1,521.4 L357.6,521.4 L358.1,521.5 L358.6,521.5 L359.1,521.5 L359.6,521.6 L360.1,521.6 L360.6,521.7 L361.1,521.7 L361.6,521.7 L362.1,521.8 L362.6,521.8 L363.1,521.8 L363.6,521.9 L364.1,521.9 L364.6,521.9 L365.1,522.0 L365.6,522.0 L366.1,522.0 L366.6,522.0 L367.1,522.1 L367.6,522.1 L368.1,522.1 L368.6,522.1 L369.1,522.2 L369.6,522.2 L370.0,522.2 L370.1,522.2 L370.6,522.2 L371.1,522.2 L371.6,522.3 L372.1,522.3 L372.6,522.3 L373.1,522.3 L373.6,522.3 L374.1,522.4 L374.6,522.4 L375.1,522.4 L375.6,522.4 L376.1,522.4 L376.6,522.5 L377.1,522.5 L377.6,522.5 L378.1,522.5 L378.6,522.5 L379.1,522.5 L379.6,522.6 L380.1,522.6 L380.6,522.6 L381.1,522.6 L381.6,522.6 L382.1,522.6 L382.6,522.7 L383.1,522.7 L383.6,522.7 L384.1,522.7 L384.6,522.7 L385.1,522.7 L385.6,522.7 L386.1,522.8 L386.6,522.8 L387.1,522.8 L387.6,522.8 L388.1,522.8 L388.6,522.8 L389.1,522.8 L389.6,522.8 L390.1,522.9 L390.6,522.9 L391.1,522.9 L391.6,522.9 L392.1,522.9 L392.6,522.9 L393.1,522.9 L393.6,522.9 L394.1,522.9 L394.6,522.9 L395.1,523.0 L395.6,523.0 L396.1,523.0 L396.6,523.0 L397.1,523.0 L397.6,523.0 L398.1,523.0 L398.6,523.0 L399.1,523.0 L399.6,523.0 L400.0,523.0 L400.1,523.0 L400.6,523.0 L401.1,523.0 L401.6,523.0 L402.1,523.0 L402.6,523.0 L403.1,523.0 L403.6,523.0 L404.1,523.0 L404.6,523.0 L405.1,523.0 L405.6,523.0 L406.1,523.0 L406.6,523.0 L407.1,523.0 L407.6,523.0 L408.1,523.0 L408.6,523.0 L409.1,523.0 L409.6,523.0 L410.1,523.0 L410.6,523.1 L411.1,523.1 L411.6,523.1 L412.1,523.1 L412.6,523.1 L413.1,523.1 L413.6,523.1 L414.1,523.1 L414.6,523.1 L415.1,523.1 L415.6,523.1 L416.1,523.1 L416.6,523.1 L417.1,523.1 L417.6,523.1 L418.1,523.1 L418.6,523.1 L419.1,523.1 L419.6,523.1 L420.1,523.1 L420.6,523.1 L421.1,523.1 L421.6,523.1 L422.1,523.1 L422.6,523.1 L423.1,523.1 L423.6,523.1 L424.1,523.1 L424.6,523.1 L425.1,523.1 L425.6,523.1 L426.1,523.1 L426.6,523.1 L427.1,523.1 L427.6,523.1 L428.1,523.1 L428.6,523.1 L429.1,523.1 L429.6,523.1 L430.1,523.1 L430.6,523.1 L431.1,523.1 L431.6,523.1 L432.1,523.1 L432.5,523.1"/>
<path d="M246.1,518.6 L246.6,518.6 L247.1,518.6 L247.6,518.6 L248.1,518.5 L248.6,518.5 L249.1,518.5 L249.6,518.5 L250.1,518.4 L250.6,518.4 L251.1,518.4 L251.6,518.4 L252.1,518.3 L252.6,518.3 L253.1,518.3 L253.6,518.3 L254.1,518.2 L254.6,518.2 L255.0,518.2 L255.1,518.2 L255.6,518.2 L256.1,518.1 L256.6,518.1 L257.1,518.1 L257.6,518.1 L258.1,518.0 L258.6,518.0 L259.1,518.0 L259.6,518.0 L260.1,517.9 L260.6,517.9 L261.1,517.9 L261.6,517.8 L262.1,517.8 L262.6,517.8 L263.1,517.8 L263.6,517.7 L264.1,517.7 L264.6,517.7 L265.1,517.6 L265.6,517.6 L266.1,517.6 L266.6,517.6 L267.1,517.5 L267.6,517.5 L268.1,517.5 L268.6,517.4 L269.1,517.4 L269.6,517.4 L270.1,517.3 L270.6,517.3 L271.1,517.3 L271.6,517.2 L272.1,517.2 L272.6,517.2 L273.1,517.1 L273.6,517.1 L274.1,517.1 L274.6,517.0 L275.1,517.0 L275.6,516.9 L276.1,516.9 L276.6,516.9 L277.1,516.8 L277.6,516.8 L278.1,516.8 L278.6,516.7 L279.1,516.7 L279.6,516.6 L280.0,516.6 L280.1,516.6 L280.6,516.5 L281.1,516.5 L281.6,516.5 L282.1,516.4 L282.6,516.4 L283.1,516.3 L283.6,516.3 L284.1,516.2 L284.6,516.2 L285.1,516.1 L285.6,516.1 L286.1,516.0 L286.6,516.0 L287.1,515.9 L287.6,515.9 L288.1,515.8 L288.6,515.7 L289.1,515.6 L289.6,515.6 L290.0,515.5 L290.1,515.5 L290.6,515.4 L291.1,515.3 L291.6,515.1 L292.1,515.0 L292.6,514.8 L293.1,514.6 L293.6,514.5 L294.1,514.3 L294.6,514.1 L294.9,514.0 L295.1,513.9 L295.6,513.7 L296.1,513.6 L296.6,513.4 L297.1,513.2 L297.6,513.0 L298.1,512.8 L298.6,512.6 L299.1,512.4 L299.6,512.2 L300.1,511.9 L300.6,511.7 L301.1,511.4 L301.6,511.1 L302.1,510.7 L302.3,510.6 L302.6,510.4 L303.1,509.8 L303.6,509.2 L304.1,508.5 L304.6,507.8 L305.1,507.1 L305.4,506.7 L305.6,506.5 L306.1,505.9 L306.6,505.3 L307.1,504.7 L307.6,504.1 L308.1,503.5 L308.6,502.7 L309.1,501.8 L309.6,500.9 L310.1,499.8 L310.6,498.5 L311.1,497.1 L311.3,496.4 L311.6,495.1 L312.1,492.2 L312.5,490.0 L312.6,489.5 L313.1,487.4 L313.3,486.7 L313.6,485.8 L314.1,484.4 L314.6,483.3 L314.8,483.0 L315.1,482.6 L315.6,482.0 L316.1,481.7 L316.2,481.7 L316.6,481.9 L317.1,482.6 L317.4,483.0 L317.6,483.3 L318.1,484.2 L318.6,485.2 L319.1,486.5 L319.6,488.1 L320.1,489.9 L320.6,491.7 L320.9,492.7 L321.1,493.4 L321.6,495.1 L322.1,496.9 L322.6,498.6 L323.1,500.0 L323.2,500.3 L323.6,501.2 L324.1,502.3 L324.6,503.2 L325.1,504.1 L325.5,504.8 L325.6,505.0 L326.1,505.8 L326.6,506.7 L327.1,507.5 L327.6,508.3 L328.1,509.0 L328.6,509.6 L329.1,510.1 L329.2,510.2 L329.6,510.5 L330.1,510.9 L330.6,511.3 L331.1,511.7 L331.6,512.0 L332.1,512.3 L332.6,512.5 L333.1,512.8 L333.6,513.1 L334.1,513.3 L334.6,513.6 L335.1,513.8 L335.3,513.9 L335.6,514.0 L336.1,514.3 L336.6,514.5 L337.1,514.7 L337.6,515.0 L338.1,515.2 L338.6,515.4 L339.1,515.6 L339.6,515.8 L340.1,516.0 L340.6,516.2 L341.1,516.4 L341.6,516.6 L342.1,516.7 L342.6,516.9 L342.9,517.0 L343.1,517.1 L343.6,517.2 L344.1,517.4 L344.6,517.5 L345.1,517.7 L345.6,517.8 L346.1,518.0 L346.6,518.1 L347.1,518.2 L347.6,518.4 L348.1,518.5 L348.6,518.6 L349.1,518.7 L349.6,518.8 L350.0,518.9 L350.1,518.9 L350.6,519.0 L351.1,519.1 L351.6,519.2 L352.1,519.3 L352.6,519.4 L353.1,519.5 L353.6,519.5 L354.1,519.6 L354.6,519.7 L355.1,519.8 L355.6,519.9 L356.1,519.9 L356.6,520.0 L357.1,520.1 L357.6,520.2 L358.1,520.2 L358.6,520.3 L359.1,520.4 L359.6,520.4 L360.1,520.5 L360.6,520.6 L361.1,520.6 L361.6,520.7 L362.1,520.8 L362.6,520.8 L363.1,520.9 L363.6,520.9 L364.1,521.0 L364.6,521.0 L365.1,521.1 L365.6,521.1 L366.1,521.2 L366.6,521.2 L367.1,521.3 L367.6,521.3 L368.1,521.4 L368.6,521.4 L369.1,521.4 L369.6,521.5 L370.0,521.5 L370.1,521.5 L370.6,521.5 L371.1,521.6 L371.6,521.6 L372.1,521.6 L372.6,521.7 L373.1,521.7 L373.6,521.7 L374.1,521.8 L374.6,521.8 L375.1,521.8 L375.6,521.9 L376.1,521.9 L376.6,521.9 L377.1,521.9 L377.6,522.0 L378.1,522.0 L378.6,522.0 L379.1,522.1 L379.6,522.1 L380.1,522.1 L380.6,522.1 L381.1,522.2 L381.6,522.2 L382.1,522.2 L382.6,522.2 L383.1,522.3 L383.6,522.3 L384.1,522.3 L384.6,522.3 L385.1,522.4 L385.6,522.4 L386.1,522.4 L386.6,522.4 L387.1,522.5 L387.6,522.5 L388.1,522.5 L388.6,522.5 L389.1,522.5 L389.6,522.5 L390.1,522.6 L390.6,522.6 L391.1,522.6 L391.6,522.6 L392.1,522.6 L392.6,522.6 L393.1,522.7 L393.6,522.7 L394.1,522.7 L394.6,522.7 L395.1,522.7 L395.6,522.7 L396.1,522.7 L396.6,522.7 L397.1,522.8 L397.6,522.8 L398.1,522.8 L398.6,522.8 L399.1,522.8 L399.6,522.8 L400.0,522.8 L400.1,522.8 L400.6,522.8 L401.1,522.8 L401.6,522.8 L402.1,522.8 L402.6,522.8 L403.1,522.8 L403.6,522.8 L404.1,522.8 L404.6,522.8 L405.1,522.9 L405.6,522.9 L406.1,522.9 L406.6,522.9 L407.1,522.9 L407.6,522.9 L408.1,522.9 L408.6,522.9 L409.1,522.9 L409.6,522.9 L410.1,522.9 L410.6,522.9 L411.1,522.9 L411.6,522.9 L412.1,522.9 L412.6,522.9 L413.1,522.9 L413.6,522.9 L414.1,522.9 L414.6,522.9 L415.1,522.9 L415.6,522.9 L416.1,522.9 L416.6,522.9 L417.1,522.9 L417.6,523.0 L418.1,523.0 L418.6,523.0 L419.1,523.0 L419.6,523.0 L420.1,523.0 L420.6,523.0 L421.1,523.0 L421.6,523.0 L422.1,523.0 L422.6,523.0 L423.1,523.0 L423.6,523.0 L424.1,523.0 L424.6,523.0 L425.1,523.0 L425.6,523.0 L426.1,523.0 L426.6,523.0 L427.1,523.0 L427.6,523.0 L428.1,523.0 L428.6,523.0 L429.1,523.0 L429.6,523.0 L430.1,523.0 L430.6,523.0 L431.1,523.0 L431.6,523.0 L432.1,523.0 L432.5,523.0"/>
</g>
<g stroke="#111" stroke-width="0.9" fill="none"><path d="M392,220 H432.8"/><path d="M386,371.9 H432.8"/><path d="M395,523.2 H432.8"/></g><g stroke="#333" stroke-width="0.8" fill="none" opacity="0.6"><path d="M372,219.8 H389"/><path d="M366,371.7 H382"/><path d="M375,523 H393"/></g>
<g font-family="Liberation Sans, Arial, sans-serif" fill="#484848">
<text x="187.07" y="227.9" font-size="6.8" textLength="3.33" lengthAdjust="spacingAndGlyphs">0</text>
<text x="180.41" y="210.3" font-size="6.8" textLength="9.99" lengthAdjust="spacingAndGlyphs">200</text>
<text x="180.41" y="192.7" font-size="6.8" textLength="9.99" lengthAdjust="spacingAndGlyphs">400</text>
<text x="180.41" y="175.0" font-size="6.8" textLength="9.99" lengthAdjust="spacingAndGlyphs">600</text>
<text x="180.41" y="157.4" font-size="6.8" textLength="9.99" lengthAdjust="spacingAndGlyphs">800</text>
<text x="177.08" y="139.8" font-size="6.8" textLength="13.32" lengthAdjust="spacingAndGlyphs">1000</text>
<text x="177.08" y="122.2" font-size="6.8" textLength="13.32" lengthAdjust="spacingAndGlyphs">1200</text>
<text x="177.08" y="104.5" font-size="6.8" textLength="13.32" lengthAdjust="spacingAndGlyphs">1400</text>
<text x="177.08" y="86.9" font-size="6.8" textLength="13.32" lengthAdjust="spacingAndGlyphs">1600</text>
<text x="187.07" y="379.6" font-size="6.8" textLength="3.33" lengthAdjust="spacingAndGlyphs">0</text>
<text x="180.41" y="362.0" font-size="6.8" textLength="9.99" lengthAdjust="spacingAndGlyphs">200</text>
<text x="180.41" y="344.4" font-size="6.8" textLength="9.99" lengthAdjust="spacingAndGlyphs">400</text>
<text x="180.41" y="326.8" font-size="6.8" textLength="9.99" lengthAdjust="spacingAndGlyphs">600</text>
<text x="180.41" y="309.2" font-size="6.8" textLength="9.99" lengthAdjust="spacingAndGlyphs">800</text>
<text x="180.41" y="291.6" font-size="6.8" textLength="9.99" lengthAdjust="spacingAndGlyphs">000</text>
<text x="180.41" y="274.0" font-size="6.8" textLength="9.99" lengthAdjust="spacingAndGlyphs">200</text>
<text x="177.08" y="256.4" font-size="6.8" textLength="13.32" lengthAdjust="spacingAndGlyphs">1400</text>
<text x="177.08" y="238.8" font-size="6.8" textLength="13.32" lengthAdjust="spacingAndGlyphs">1600</text>
<text x="187.07" y="530.8" font-size="6.8" textLength="3.33" lengthAdjust="spacingAndGlyphs">0</text>
<text x="180.41" y="513.2" font-size="6.8" textLength="9.99" lengthAdjust="spacingAndGlyphs">200</text>
<text x="180.41" y="495.7" font-size="6.8" textLength="9.99" lengthAdjust="spacingAndGlyphs">400</text>
<text x="180.41" y="478.1" font-size="6.8" textLength="9.99" lengthAdjust="spacingAndGlyphs">600</text>
<text x="180.41" y="460.5" font-size="6.8" textLength="9.99" lengthAdjust="spacingAndGlyphs">800</text>
<text x="177.08" y="443.0" font-size="6.8" textLength="13.32" lengthAdjust="spacingAndGlyphs">1000</text>
<text x="177.08" y="425.4" font-size="6.8" textLength="13.32" lengthAdjust="spacingAndGlyphs">1200</text>
<text x="177.08" y="407.9" font-size="6.8" textLength="13.32" lengthAdjust="spacingAndGlyphs">1400</text>
<text x="177.08" y="390.3" font-size="6.8" textLength="13.32" lengthAdjust="spacingAndGlyphs">1600</text>
<text x="190.2" y="540.0" font-size="6.8" textLength="10.2" lengthAdjust="spacingAndGlyphs">250</text>
<text x="228.3" y="540.0" font-size="6.8" textLength="10.2" lengthAdjust="spacingAndGlyphs">270</text>
<text x="266.4" y="540.0" font-size="6.8" textLength="10.2" lengthAdjust="spacingAndGlyphs">290</text>
<text x="304.5" y="540.0" font-size="6.8" textLength="10.2" lengthAdjust="spacingAndGlyphs">310</text>
<text x="342.6" y="540.0" font-size="6.8" textLength="10.2" lengthAdjust="spacingAndGlyphs">330</text>
<text x="380.7" y="540.0" font-size="6.8" textLength="10.2" lengthAdjust="spacingAndGlyphs">350</text>
<text x="418.8" y="540.0" font-size="6.8" textLength="10.2" lengthAdjust="spacingAndGlyphs">370</text>
</g>
<g font-family="Liberation Sans, Arial, sans-serif" fill="#3c3c3c" font-size="9">
<text x="205" y="95.6" textLength="46.6" lengthAdjust="spacingAndGlyphs">a.) Pure CO<tspan font-size="6.8" dy="2.9">2</tspan></text>
<text x="204.3" y="246" textLength="80" lengthAdjust="spacingAndGlyphs">b.) 99 % CO<tspan font-size="6.8" dy="2.9">2</tspan><tspan dy="-2.9"> , 1 % He</tspan></text>
<text x="204.3" y="402.5" textLength="100.5" lengthAdjust="spacingAndGlyphs">c.) 99 % CO<tspan font-size="6.8" dy="2.9">2</tspan><tspan dy="-2.9"> , 1 % Propane</tspan></text>
</g>
<g font-family="Liberation Sans, Arial, sans-serif" fill="#333" font-size="7.7">
<text x="281.8" y="115.3" textLength="20.4" lengthAdjust="spacingAndGlyphs">8 MPa</text>
<text x="270.6" y="174.0" textLength="20.4" lengthAdjust="spacingAndGlyphs">7 MPa</text>
<text x="257.4" y="204.4" textLength="20.4" lengthAdjust="spacingAndGlyphs">6 MPa</text>
<text x="322.3" y="178.9" textLength="20.4" lengthAdjust="spacingAndGlyphs">9 MPa</text>
<text x="275.5" y="289.4" textLength="20.4" lengthAdjust="spacingAndGlyphs">8 MPa</text>
<text x="316.6" y="338.8" textLength="20.4" lengthAdjust="spacingAndGlyphs">9 MPa</text>
<text x="271.1" y="348.0" textLength="20.4" lengthAdjust="spacingAndGlyphs">7 MPa</text>
<text x="259.2" y="360.3" textLength="20.4" lengthAdjust="spacingAndGlyphs">6 MPa</text>
<text x="310.3" y="435.7" textLength="20.4" lengthAdjust="spacingAndGlyphs">8 MPa</text>
<text x="270.5" y="475.3" textLength="20.4" lengthAdjust="spacingAndGlyphs">7 MPa</text>
<text x="323.2" y="490.1" textLength="20.4" lengthAdjust="spacingAndGlyphs">9 MPa</text>
<text x="256.5" y="508.1" textLength="20.4" lengthAdjust="spacingAndGlyphs">6 MPa</text>
</g>
<g font-family="Liberation Sans, Arial, sans-serif" fill="#111" font-weight="bold">
<text x="285.6" y="551.8" font-size="7.4" textLength="58" lengthAdjust="spacingAndGlyphs">Temperature (K)</text>
<text transform="translate(169.2,361.8) rotate(-90)" font-size="8.8" textLength="94" lengthAdjust="spacingAndGlyphs">Heat Capacity (J/mol•K)</text>
</g>
<rect x="438.4" y="74.4" width="1.1" height="1.1" fill="#888"/>
</svg>
<div class="l" id="cap1" style="left:78.6px;top:576.0px;word-spacing:0.067px">Figure 2.7: The effect of impurities on the critical temperature of CO<sub>2</sub>. The molar specific heat</div>
<div class="l" id="cap2" style="left:75.5px;top:592.9px;word-spacing:-0.02px">capacities of CO<sub>2</sub> mixtures are shown for lines of constant pressure. a.) pure, b.) 1% H<sub>2</sub> by mole</div>
<div class="l" id="cap3" style="left:206.6px;top:610.7px;word-spacing:-0.07px">fraction, c.) 1% Propane by mole fraction</div>
<div class="l" id="p1" style="left:108.2px;top:644.6px;word-spacing:0px">The modifications in CYCLES III allow the user to include any fluid available in the</div>
<div class="l" id="p2" style="left:71.4px;top:662.0px;word-spacing:0.16px">NIST database as an impurity, including an approximation for air.&nbsp; The input file <b><i>HXdata.txt</i></b></div>
<div class="l" id="p3" style="left:71.6px;top:679.8px;word-spacing:0px">includes a portion near the top that reads:</div>
<div class="l" id="pn" style="left:300px;top:729.0px;word-spacing:0px">31</div>
</body></html>
